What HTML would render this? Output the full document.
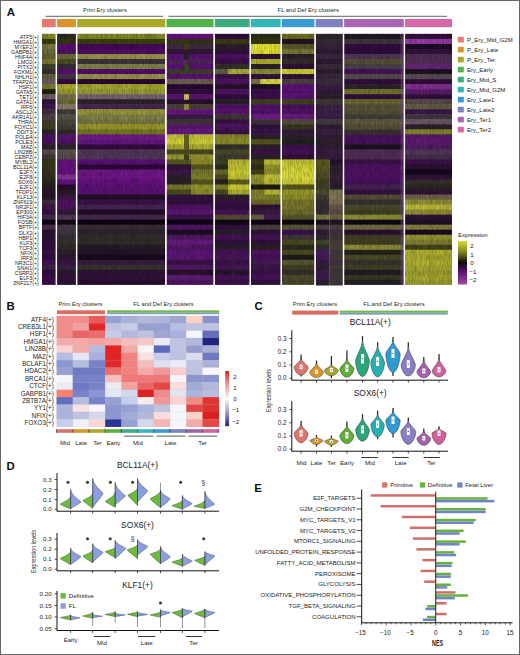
<!DOCTYPE html>
<html><head><meta charset="utf-8"><style>
html,body{margin:0;padding:0;background:#fff;}
svg{display:block;font-family:"Liberation Sans",sans-serif;}
</style></head><body>
<svg width="520" height="655" viewBox="0 0 520 655">
<rect width="520" height="655" fill="#fff"/>
<text x="105.00" y="12.00" font-size="5.8" text-anchor="middle" fill="#231f20">Prim Ery clusters</text>
<text x="308.20" y="12.03" font-size="5.9" text-anchor="middle" fill="#231f20">FL and Def Ery clusters</text>
<line x1="45.50" y1="16.30" x2="163.00" y2="16.30" stroke="#3a3a3a" stroke-width="0.8"/>
<line x1="168.50" y1="16.30" x2="447.00" y2="16.30" stroke="#3a3a3a" stroke-width="0.8"/>
<rect x="42.00" y="19.00" width="13.75" height="8.20" fill="#e8776d"/>
<rect x="57.05" y="19.00" width="18.90" height="8.20" fill="#d6962c"/>
<rect x="77.25" y="19.00" width="88.00" height="8.20" fill="#a8a82a"/>
<rect x="166.55" y="19.00" width="47.00" height="8.20" fill="#52b34a"/>
<rect x="214.85" y="19.00" width="34.80" height="8.20" fill="#3cab80"/>
<rect x="250.95" y="19.00" width="29.70" height="8.20" fill="#34b5b8"/>
<rect x="281.95" y="19.00" width="32.50" height="8.20" fill="#3a9ad8"/>
<rect x="315.75" y="19.00" width="27.10" height="8.20" fill="#7f80c2"/>
<rect x="344.15" y="19.00" width="59.60" height="8.20" fill="#a866b2"/>
<rect x="405.05" y="19.00" width="46.95" height="8.20" fill="#d966a6"/>
<rect x="42.00" y="33.90" width="13.75" height="5.62" fill="#86862d"/>
<rect x="57.05" y="33.90" width="18.90" height="5.62" fill="#2d2d22"/>
<rect x="77.25" y="33.90" width="88.00" height="5.62" fill="#868c27"/>
<rect x="166.55" y="33.90" width="47.00" height="5.62" fill="#681383"/>
<rect x="214.85" y="33.90" width="34.80" height="5.62" fill="#340e42"/>
<rect x="250.95" y="33.90" width="29.70" height="5.62" fill="#2d3216"/>
<rect x="281.95" y="33.90" width="32.50" height="5.62" fill="#707022"/>
<rect x="315.75" y="33.90" width="27.10" height="5.62" fill="#312532"/>
<rect x="344.15" y="33.90" width="59.60" height="5.62" fill="#221c22"/>
<rect x="405.05" y="33.90" width="46.95" height="5.62" fill="#34133b"/>
<rect x="42.00" y="38.92" width="13.75" height="5.62" fill="#383e11"/>
<rect x="57.05" y="38.92" width="18.90" height="5.62" fill="#383811"/>
<rect x="77.25" y="38.92" width="88.00" height="5.62" fill="#3e4311"/>
<rect x="166.55" y="38.92" width="47.00" height="5.62" fill="#383816"/>
<rect x="214.85" y="38.92" width="34.80" height="5.62" fill="#3e3e16"/>
<rect x="250.95" y="38.92" width="29.70" height="5.62" fill="#383816"/>
<rect x="281.95" y="38.92" width="32.50" height="5.62" fill="#221622"/>
<rect x="315.75" y="38.92" width="27.10" height="5.62" fill="#352e34"/>
<rect x="344.15" y="38.92" width="59.60" height="5.62" fill="#433843"/>
<rect x="405.05" y="38.92" width="46.95" height="5.62" fill="#9c39aa"/>
<rect x="42.00" y="43.94" width="13.75" height="5.62" fill="#7b7b43"/>
<rect x="57.05" y="43.94" width="18.90" height="5.62" fill="#5e0e79"/>
<rect x="77.25" y="43.94" width="88.00" height="5.62" fill="#490a5d"/>
<rect x="166.55" y="43.94" width="47.00" height="5.62" fill="#432d43"/>
<rect x="214.85" y="43.94" width="34.80" height="5.62" fill="#2d222d"/>
<rect x="250.95" y="43.94" width="29.70" height="5.62" fill="#ebeb38"/>
<rect x="281.95" y="43.94" width="32.50" height="5.62" fill="#5a5a2d"/>
<rect x="315.75" y="43.94" width="27.10" height="5.62" fill="#36253b"/>
<rect x="344.15" y="43.94" width="59.60" height="5.62" fill="#340e42"/>
<rect x="405.05" y="43.94" width="46.95" height="5.62" fill="#1f0e26"/>
<rect x="42.00" y="48.96" width="13.75" height="5.62" fill="#70703e"/>
<rect x="57.05" y="48.96" width="18.90" height="5.62" fill="#531367"/>
<rect x="77.25" y="48.96" width="88.00" height="5.62" fill="#530e67"/>
<rect x="166.55" y="48.96" width="47.00" height="5.62" fill="#34183b"/>
<rect x="214.85" y="48.96" width="34.80" height="5.62" fill="#34133b"/>
<rect x="250.95" y="48.96" width="29.70" height="5.62" fill="#ebeb38"/>
<rect x="281.95" y="48.96" width="32.50" height="5.62" fill="#7b7b38"/>
<rect x="315.75" y="48.96" width="27.10" height="5.62" fill="#311c36"/>
<rect x="344.15" y="48.96" width="59.60" height="5.62" fill="#340e42"/>
<rect x="405.05" y="48.96" width="46.95" height="5.62" fill="#34133b"/>
<rect x="42.00" y="53.98" width="13.75" height="5.62" fill="#656538"/>
<rect x="57.05" y="53.98" width="18.90" height="5.62" fill="#707038"/>
<rect x="77.25" y="53.98" width="88.00" height="5.62" fill="#9d974e"/>
<rect x="166.55" y="53.98" width="47.00" height="5.62" fill="#5e1379"/>
<rect x="214.85" y="53.98" width="34.80" height="5.62" fill="#531367"/>
<rect x="250.95" y="53.98" width="29.70" height="5.62" fill="#34133b"/>
<rect x="281.95" y="53.98" width="32.50" height="5.62" fill="#2d222d"/>
<rect x="315.75" y="53.98" width="27.10" height="5.62" fill="#3b2a40"/>
<rect x="344.15" y="53.98" width="59.60" height="5.62" fill="#53395a"/>
<rect x="405.05" y="53.98" width="46.95" height="5.62" fill="#53305a"/>
<rect x="42.00" y="59.00" width="13.75" height="5.62" fill="#7b7b38"/>
<rect x="57.05" y="59.00" width="18.90" height="5.62" fill="#4e4e22"/>
<rect x="77.25" y="59.00" width="88.00" height="5.62" fill="#3e383e"/>
<rect x="166.55" y="59.00" width="47.00" height="5.62" fill="#532661"/>
<rect x="214.85" y="59.00" width="34.80" height="5.62" fill="#3e134c"/>
<rect x="250.95" y="59.00" width="29.70" height="5.62" fill="#b3b32d"/>
<rect x="281.95" y="59.00" width="32.50" height="5.62" fill="#382d2d"/>
<rect x="315.75" y="59.00" width="27.10" height="5.62" fill="#311c36"/>
<rect x="344.15" y="59.00" width="59.60" height="5.62" fill="#58533a"/>
<rect x="405.05" y="59.00" width="46.95" height="5.62" fill="#53305a"/>
<rect x="42.00" y="64.02" width="13.75" height="5.62" fill="#43432d"/>
<rect x="57.05" y="64.02" width="18.90" height="5.62" fill="#382d38"/>
<rect x="77.25" y="64.02" width="88.00" height="5.62" fill="#86864e"/>
<rect x="166.55" y="64.02" width="47.00" height="5.62" fill="#5e1379"/>
<rect x="214.85" y="64.02" width="34.80" height="5.62" fill="#383232"/>
<rect x="250.95" y="64.02" width="29.70" height="5.62" fill="#2d222d"/>
<rect x="281.95" y="64.02" width="32.50" height="5.62" fill="#34133b"/>
<rect x="315.75" y="64.02" width="27.10" height="5.62" fill="#3b2a3d"/>
<rect x="344.15" y="64.02" width="59.60" height="5.62" fill="#4e434e"/>
<rect x="405.05" y="64.02" width="46.95" height="5.62" fill="#68267c"/>
<rect x="42.00" y="69.04" width="13.75" height="5.62" fill="#38322d"/>
<rect x="57.05" y="69.04" width="18.90" height="5.62" fill="#5e0e79"/>
<rect x="77.25" y="69.04" width="88.00" height="5.62" fill="#530e6e"/>
<rect x="166.55" y="69.04" width="47.00" height="5.62" fill="#433e2d"/>
<rect x="214.85" y="69.04" width="13.15" height="5.62" fill="#656543"/>
<rect x="228.00" y="69.04" width="21.65" height="5.62" fill="#b3b343"/>
<rect x="250.95" y="69.04" width="29.70" height="5.62" fill="#929238"/>
<rect x="281.95" y="69.04" width="32.50" height="5.62" fill="#d5d538"/>
<rect x="315.75" y="69.04" width="27.10" height="5.62" fill="#2c202d"/>
<rect x="344.15" y="69.04" width="59.60" height="5.62" fill="#49135d"/>
<rect x="405.05" y="69.04" width="46.95" height="5.62" fill="#1f1323"/>
<rect x="42.00" y="74.06" width="13.75" height="5.62" fill="#655f43"/>
<rect x="57.05" y="74.06" width="18.90" height="5.62" fill="#433843"/>
<rect x="77.25" y="74.06" width="88.00" height="5.62" fill="#9d974e"/>
<rect x="166.55" y="74.06" width="47.00" height="5.62" fill="#5e1379"/>
<rect x="214.85" y="74.06" width="34.80" height="5.62" fill="#3e134c"/>
<rect x="250.95" y="74.06" width="29.70" height="5.62" fill="#341342"/>
<rect x="281.95" y="74.06" width="32.50" height="5.62" fill="#34133b"/>
<rect x="315.75" y="74.06" width="27.10" height="5.62" fill="#3b2540"/>
<rect x="344.15" y="74.06" width="59.60" height="5.62" fill="#5a4e4e"/>
<rect x="405.05" y="74.06" width="46.95" height="5.62" fill="#5a4e5a"/>
<rect x="42.00" y="79.08" width="13.75" height="5.62" fill="#705a65"/>
<rect x="57.05" y="79.08" width="18.90" height="5.62" fill="#340a42"/>
<rect x="77.25" y="79.08" width="88.00" height="5.62" fill="#2a0a37"/>
<rect x="166.55" y="79.08" width="47.00" height="5.62" fill="#70654e"/>
<rect x="214.85" y="79.08" width="34.80" height="5.62" fill="#531367"/>
<rect x="250.95" y="79.08" width="9.55" height="5.62" fill="#7b7643"/>
<rect x="260.50" y="79.08" width="20.15" height="5.62" fill="#e0e043"/>
<rect x="281.95" y="79.08" width="32.50" height="5.62" fill="#4e4343"/>
<rect x="315.75" y="79.08" width="27.10" height="5.62" fill="#3b2f3d"/>
<rect x="344.15" y="79.08" width="59.60" height="5.62" fill="#340e42"/>
<rect x="405.05" y="79.08" width="46.95" height="5.62" fill="#340e3b"/>
<rect x="42.00" y="84.10" width="13.75" height="5.62" fill="#7b7b2d"/>
<rect x="57.05" y="84.10" width="18.90" height="5.62" fill="#b3b32d"/>
<rect x="77.25" y="84.10" width="88.00" height="5.62" fill="#a8ae2d"/>
<rect x="166.55" y="84.10" width="47.00" height="5.62" fill="#2a0a37"/>
<rect x="214.85" y="84.10" width="34.80" height="5.62" fill="#2a1330"/>
<rect x="250.95" y="84.10" width="29.70" height="5.62" fill="#1f1326"/>
<rect x="281.95" y="84.10" width="32.50" height="5.62" fill="#5e1379"/>
<rect x="315.75" y="84.10" width="27.10" height="5.62" fill="#3b1c47"/>
<rect x="344.15" y="84.10" width="59.60" height="5.62" fill="#2d272d"/>
<rect x="405.05" y="84.10" width="46.95" height="5.62" fill="#873095"/>
<rect x="42.00" y="89.12" width="13.75" height="5.62" fill="#22220b"/>
<rect x="57.05" y="89.12" width="18.90" height="5.62" fill="#9d9d2d"/>
<rect x="77.25" y="89.12" width="88.00" height="5.62" fill="#9d9d38"/>
<rect x="166.55" y="89.12" width="47.00" height="5.62" fill="#340e42"/>
<rect x="214.85" y="89.12" width="34.80" height="5.62" fill="#531367"/>
<rect x="250.95" y="89.12" width="29.70" height="5.62" fill="#3e0e53"/>
<rect x="281.95" y="89.12" width="32.50" height="5.62" fill="#5e1379"/>
<rect x="315.75" y="89.12" width="27.10" height="5.62" fill="#311c39"/>
<rect x="344.15" y="89.12" width="59.60" height="5.62" fill="#767631"/>
<rect x="405.05" y="89.12" width="46.95" height="5.62" fill="#5e1d72"/>
<rect x="42.00" y="94.14" width="13.75" height="5.62" fill="#7b6565"/>
<rect x="57.05" y="94.14" width="18.90" height="5.62" fill="#7b704e"/>
<rect x="77.25" y="94.14" width="88.00" height="5.62" fill="#7b6570"/>
<rect x="166.55" y="94.14" width="47.00" height="5.62" fill="#5e1372"/>
<rect x="214.85" y="94.14" width="34.80" height="5.62" fill="#340e42"/>
<rect x="250.95" y="94.14" width="29.70" height="5.62" fill="#3e0e4c"/>
<rect x="281.95" y="94.14" width="32.50" height="5.62" fill="#5e1379"/>
<rect x="315.75" y="94.14" width="27.10" height="5.62" fill="#2c202d"/>
<rect x="344.15" y="94.14" width="59.60" height="5.62" fill="#34133b"/>
<rect x="405.05" y="94.14" width="46.95" height="5.62" fill="#34133b"/>
<rect x="42.00" y="99.16" width="13.75" height="5.62" fill="#34133b"/>
<rect x="57.05" y="99.16" width="18.90" height="5.62" fill="#70702d"/>
<rect x="77.25" y="99.16" width="88.00" height="5.62" fill="#2d272d"/>
<rect x="166.55" y="99.16" width="47.00" height="5.62" fill="#2a1330"/>
<rect x="214.85" y="99.16" width="34.80" height="5.62" fill="#2d222d"/>
<rect x="250.95" y="99.16" width="29.70" height="5.62" fill="#434322"/>
<rect x="281.95" y="99.16" width="32.50" height="5.62" fill="#434322"/>
<rect x="315.75" y="99.16" width="27.10" height="5.62" fill="#403937"/>
<rect x="344.15" y="99.16" width="59.60" height="5.62" fill="#6c6c31"/>
<rect x="405.05" y="99.16" width="46.95" height="5.62" fill="#5a4e4e"/>
<rect x="42.00" y="104.18" width="13.75" height="5.62" fill="#3e184c"/>
<rect x="57.05" y="104.18" width="18.90" height="5.62" fill="#927b70"/>
<rect x="77.25" y="104.18" width="88.00" height="5.62" fill="#492656"/>
<rect x="166.55" y="104.18" width="47.00" height="5.62" fill="#4e4338"/>
<rect x="214.85" y="104.18" width="34.80" height="5.62" fill="#531367"/>
<rect x="250.95" y="104.18" width="29.70" height="5.62" fill="#53136e"/>
<rect x="281.95" y="104.18" width="32.50" height="5.62" fill="#49135d"/>
<rect x="315.75" y="104.18" width="27.10" height="5.62" fill="#3b2543"/>
<rect x="344.15" y="104.18" width="59.60" height="5.62" fill="#58533a"/>
<rect x="405.05" y="104.18" width="46.95" height="5.62" fill="#655f43"/>
<rect x="42.00" y="109.20" width="13.75" height="5.62" fill="#432d43"/>
<rect x="57.05" y="109.20" width="18.90" height="5.62" fill="#433e38"/>
<rect x="77.25" y="109.20" width="88.00" height="5.62" fill="#9d9d38"/>
<rect x="166.55" y="109.20" width="47.00" height="5.62" fill="#681883"/>
<rect x="214.85" y="109.20" width="34.80" height="5.62" fill="#5e1379"/>
<rect x="250.95" y="109.20" width="29.70" height="5.62" fill="#53136e"/>
<rect x="281.95" y="109.20" width="32.50" height="5.62" fill="#531367"/>
<rect x="315.75" y="109.20" width="27.10" height="5.62" fill="#3b2047"/>
<rect x="344.15" y="109.20" width="59.60" height="5.62" fill="#585336"/>
<rect x="405.05" y="109.20" width="46.95" height="5.62" fill="#3e184c"/>
<rect x="42.00" y="114.22" width="13.75" height="5.62" fill="#4e4343"/>
<rect x="57.05" y="114.22" width="18.90" height="5.62" fill="#5a5449"/>
<rect x="77.25" y="114.22" width="88.00" height="5.62" fill="#86864e"/>
<rect x="166.55" y="114.22" width="47.00" height="5.62" fill="#3e1d4c"/>
<rect x="214.85" y="114.22" width="34.80" height="5.62" fill="#433838"/>
<rect x="250.95" y="114.22" width="29.70" height="5.62" fill="#731d8d"/>
<rect x="281.95" y="114.22" width="32.50" height="5.62" fill="#681d83"/>
<rect x="315.75" y="114.22" width="27.10" height="5.62" fill="#3b2047"/>
<rect x="344.15" y="114.22" width="59.60" height="5.62" fill="#44403a"/>
<rect x="405.05" y="114.22" width="46.95" height="5.62" fill="#433843"/>
<rect x="42.00" y="119.24" width="13.75" height="5.62" fill="#433e38"/>
<rect x="57.05" y="119.24" width="18.90" height="5.62" fill="#4e493e"/>
<rect x="77.25" y="119.24" width="88.00" height="5.62" fill="#7b7b43"/>
<rect x="166.55" y="119.24" width="47.00" height="5.62" fill="#433838"/>
<rect x="214.85" y="119.24" width="34.80" height="5.62" fill="#3e134c"/>
<rect x="250.95" y="119.24" width="29.70" height="5.62" fill="#433838"/>
<rect x="281.95" y="119.24" width="32.50" height="5.62" fill="#5a4e43"/>
<rect x="315.75" y="119.24" width="27.10" height="5.62" fill="#453c42"/>
<rect x="344.15" y="119.24" width="59.60" height="5.62" fill="#635d40"/>
<rect x="405.05" y="119.24" width="46.95" height="5.62" fill="#705a65"/>
<rect x="42.00" y="124.26" width="13.75" height="5.62" fill="#434322"/>
<rect x="57.05" y="124.26" width="18.90" height="5.62" fill="#433e38"/>
<rect x="77.25" y="124.26" width="88.00" height="5.62" fill="#9d9d2d"/>
<rect x="166.55" y="124.26" width="47.00" height="5.62" fill="#5e1872"/>
<rect x="214.85" y="124.26" width="34.80" height="5.62" fill="#531367"/>
<rect x="250.95" y="124.26" width="29.70" height="5.62" fill="#341342"/>
<rect x="281.95" y="124.26" width="32.50" height="5.62" fill="#383822"/>
<rect x="315.75" y="124.26" width="27.10" height="5.62" fill="#311c36"/>
<rect x="344.15" y="124.26" width="59.60" height="5.62" fill="#58533a"/>
<rect x="405.05" y="124.26" width="46.95" height="5.62" fill="#2d222d"/>
<rect x="42.00" y="129.28" width="13.75" height="5.62" fill="#2d222d"/>
<rect x="57.05" y="129.28" width="18.90" height="5.62" fill="#322d27"/>
<rect x="77.25" y="129.28" width="88.00" height="5.62" fill="#7b7b22"/>
<rect x="166.55" y="129.28" width="47.00" height="5.62" fill="#681883"/>
<rect x="214.85" y="129.28" width="34.80" height="5.62" fill="#3e134c"/>
<rect x="250.95" y="129.28" width="29.70" height="5.62" fill="#3e134c"/>
<rect x="281.95" y="129.28" width="32.50" height="5.62" fill="#341d3b"/>
<rect x="315.75" y="129.28" width="27.10" height="5.62" fill="#3b2043"/>
<rect x="344.15" y="129.28" width="59.60" height="5.62" fill="#3a3631"/>
<rect x="405.05" y="129.28" width="46.95" height="5.62" fill="#86862d"/>
<rect x="42.00" y="134.30" width="13.75" height="5.62" fill="#49135d"/>
<rect x="57.05" y="134.30" width="18.90" height="5.62" fill="#5e1379"/>
<rect x="77.25" y="134.30" width="88.00" height="5.62" fill="#731d8d"/>
<rect x="166.55" y="134.30" width="47.00" height="5.62" fill="#caca38"/>
<rect x="214.85" y="134.30" width="34.80" height="5.62" fill="#92922d"/>
<rect x="250.95" y="134.30" width="29.70" height="5.62" fill="#2d222d"/>
<rect x="281.95" y="134.30" width="32.50" height="5.62" fill="#2d222d"/>
<rect x="315.75" y="134.30" width="27.10" height="5.62" fill="#311e36"/>
<rect x="344.15" y="134.30" width="59.60" height="5.62" fill="#49135d"/>
<rect x="405.05" y="134.30" width="46.95" height="5.62" fill="#5e1872"/>
<rect x="42.00" y="139.32" width="13.75" height="5.62" fill="#49135d"/>
<rect x="57.05" y="139.32" width="18.90" height="5.62" fill="#531367"/>
<rect x="77.25" y="139.32" width="88.00" height="5.62" fill="#681883"/>
<rect x="166.55" y="139.32" width="47.00" height="5.62" fill="#d5d538"/>
<rect x="214.85" y="139.32" width="34.80" height="5.62" fill="#92922d"/>
<rect x="250.95" y="139.32" width="29.70" height="5.62" fill="#5a5a22"/>
<rect x="281.95" y="139.32" width="32.50" height="5.62" fill="#222222"/>
<rect x="315.75" y="139.32" width="27.10" height="5.62" fill="#2c202d"/>
<rect x="344.15" y="139.32" width="59.60" height="5.62" fill="#49135d"/>
<rect x="405.05" y="139.32" width="46.95" height="5.62" fill="#5e1d72"/>
<rect x="42.00" y="144.34" width="13.75" height="5.62" fill="#2d222d"/>
<rect x="57.05" y="144.34" width="18.90" height="5.62" fill="#2d272d"/>
<rect x="77.25" y="144.34" width="88.00" height="5.62" fill="#340e42"/>
<rect x="166.55" y="144.34" width="47.00" height="5.62" fill="#b3b338"/>
<rect x="214.85" y="144.34" width="34.80" height="5.62" fill="#38322d"/>
<rect x="250.95" y="144.34" width="29.70" height="5.62" fill="#2d222d"/>
<rect x="281.95" y="144.34" width="32.50" height="5.62" fill="#3e134c"/>
<rect x="315.75" y="144.34" width="27.10" height="5.62" fill="#311e36"/>
<rect x="344.15" y="144.34" width="59.60" height="5.62" fill="#1f1323"/>
<rect x="405.05" y="144.34" width="46.95" height="5.62" fill="#531d67"/>
<rect x="42.00" y="149.36" width="13.75" height="5.62" fill="#5a4e4e"/>
<rect x="57.05" y="149.36" width="18.90" height="5.62" fill="#5a544e"/>
<rect x="77.25" y="149.36" width="88.00" height="5.62" fill="#53395a"/>
<rect x="166.55" y="149.36" width="47.00" height="5.62" fill="#4e4e22"/>
<rect x="214.85" y="149.36" width="34.80" height="5.62" fill="#4e4e2d"/>
<rect x="250.95" y="149.36" width="29.70" height="5.62" fill="#3e134c"/>
<rect x="281.95" y="149.36" width="32.50" height="5.62" fill="#49135d"/>
<rect x="315.75" y="149.36" width="27.10" height="5.62" fill="#3b1e43"/>
<rect x="344.15" y="149.36" width="59.60" height="5.62" fill="#53305a"/>
<rect x="405.05" y="149.36" width="46.95" height="5.62" fill="#53395a"/>
<rect x="42.00" y="154.38" width="13.75" height="5.62" fill="#433838"/>
<rect x="57.05" y="154.38" width="18.90" height="5.62" fill="#5a4e4e"/>
<rect x="77.25" y="154.38" width="88.00" height="5.62" fill="#53395a"/>
<rect x="166.55" y="154.38" width="47.00" height="5.62" fill="#9d9d38"/>
<rect x="214.85" y="154.38" width="34.80" height="5.62" fill="#433e32"/>
<rect x="250.95" y="154.38" width="29.70" height="5.62" fill="#2d222d"/>
<rect x="281.95" y="154.38" width="32.50" height="5.62" fill="#34133b"/>
<rect x="315.75" y="154.38" width="27.10" height="5.62" fill="#361e3e"/>
<rect x="344.15" y="154.38" width="59.60" height="5.62" fill="#53305a"/>
<rect x="405.05" y="154.38" width="46.95" height="5.62" fill="#493050"/>
<rect x="42.00" y="159.40" width="13.75" height="5.62" fill="#38381c"/>
<rect x="57.05" y="159.40" width="18.90" height="5.62" fill="#681383"/>
<rect x="77.25" y="159.40" width="88.00" height="5.62" fill="#5e1379"/>
<rect x="166.55" y="159.40" width="24.45" height="5.62" fill="#5a5a22"/>
<rect x="191.00" y="159.40" width="22.55" height="5.62" fill="#92922d"/>
<rect x="214.85" y="159.40" width="13.15" height="5.62" fill="#434322"/>
<rect x="228.00" y="159.40" width="21.65" height="5.62" fill="#bebe38"/>
<rect x="250.95" y="159.40" width="13.05" height="5.62" fill="#43431c"/>
<rect x="264.00" y="159.40" width="16.65" height="5.62" fill="#c4c438"/>
<rect x="281.95" y="159.40" width="32.50" height="5.62" fill="#caca38"/>
<rect x="315.75" y="159.40" width="13.85" height="5.62" fill="#5a5a22"/>
<rect x="329.60" y="159.40" width="13.25" height="5.62" fill="#2a1330"/>
<rect x="344.15" y="159.40" width="59.60" height="5.62" fill="#3e134c"/>
<rect x="405.05" y="159.40" width="46.95" height="5.62" fill="#3e134c"/>
<rect x="42.00" y="164.42" width="13.75" height="5.62" fill="#38381c"/>
<rect x="57.05" y="164.42" width="18.90" height="5.62" fill="#681383"/>
<rect x="77.25" y="164.42" width="88.00" height="5.62" fill="#2f0a39"/>
<rect x="166.55" y="164.42" width="24.45" height="5.62" fill="#34133b"/>
<rect x="191.00" y="164.42" width="22.55" height="5.62" fill="#5a5a22"/>
<rect x="214.85" y="164.42" width="13.15" height="5.62" fill="#2d2d22"/>
<rect x="228.00" y="164.42" width="21.65" height="5.62" fill="#caca38"/>
<rect x="250.95" y="164.42" width="13.05" height="5.62" fill="#32321c"/>
<rect x="264.00" y="164.42" width="16.65" height="5.62" fill="#9d9d32"/>
<rect x="281.95" y="164.42" width="32.50" height="5.62" fill="#d5d538"/>
<rect x="315.75" y="164.42" width="13.85" height="5.62" fill="#5a5a22"/>
<rect x="329.60" y="164.42" width="13.25" height="5.62" fill="#2d222d"/>
<rect x="344.15" y="164.42" width="59.60" height="5.62" fill="#531367"/>
<rect x="405.05" y="164.42" width="46.95" height="5.62" fill="#2a1330"/>
<rect x="42.00" y="169.44" width="13.75" height="5.62" fill="#383222"/>
<rect x="57.05" y="169.44" width="18.90" height="5.62" fill="#681383"/>
<rect x="77.25" y="169.44" width="88.00" height="5.62" fill="#73188d"/>
<rect x="166.55" y="169.44" width="24.45" height="5.62" fill="#3e1845"/>
<rect x="191.00" y="169.44" width="22.55" height="5.62" fill="#7b7b2d"/>
<rect x="214.85" y="169.44" width="13.15" height="5.62" fill="#70702d"/>
<rect x="228.00" y="169.44" width="21.65" height="5.62" fill="#d5d538"/>
<rect x="250.95" y="169.44" width="13.05" height="5.62" fill="#434322"/>
<rect x="264.00" y="169.44" width="16.65" height="5.62" fill="#92922d"/>
<rect x="281.95" y="169.44" width="32.50" height="5.62" fill="#e0e038"/>
<rect x="315.75" y="169.44" width="13.85" height="5.62" fill="#545427"/>
<rect x="329.60" y="169.44" width="13.25" height="5.62" fill="#2d222d"/>
<rect x="344.15" y="169.44" width="59.60" height="5.62" fill="#531367"/>
<rect x="405.05" y="169.44" width="46.95" height="5.62" fill="#150a1c"/>
<rect x="42.00" y="174.46" width="13.75" height="5.62" fill="#32321c"/>
<rect x="57.05" y="174.46" width="18.90" height="5.62" fill="#873995"/>
<rect x="77.25" y="174.46" width="88.00" height="5.62" fill="#73188d"/>
<rect x="166.55" y="174.46" width="24.45" height="5.62" fill="#2d222d"/>
<rect x="191.00" y="174.46" width="22.55" height="5.62" fill="#86862d"/>
<rect x="214.85" y="174.46" width="13.15" height="5.62" fill="#4e4e22"/>
<rect x="228.00" y="174.46" width="21.65" height="5.62" fill="#caca38"/>
<rect x="250.95" y="174.46" width="13.05" height="5.62" fill="#9d9d2d"/>
<rect x="264.00" y="174.46" width="16.65" height="5.62" fill="#caca38"/>
<rect x="281.95" y="174.46" width="32.50" height="5.62" fill="#e0e043"/>
<rect x="315.75" y="174.46" width="13.85" height="5.62" fill="#4e4e27"/>
<rect x="329.60" y="174.46" width="13.25" height="5.62" fill="#382238"/>
<rect x="344.15" y="174.46" width="59.60" height="5.62" fill="#531367"/>
<rect x="405.05" y="174.46" width="46.95" height="5.62" fill="#34133b"/>
<rect x="42.00" y="179.48" width="13.75" height="5.62" fill="#2d2722"/>
<rect x="57.05" y="179.48" width="18.90" height="5.62" fill="#681383"/>
<rect x="77.25" y="179.48" width="88.00" height="5.62" fill="#681383"/>
<rect x="166.55" y="179.48" width="24.45" height="5.62" fill="#2d222d"/>
<rect x="191.00" y="179.48" width="22.55" height="5.62" fill="#5a5a22"/>
<rect x="214.85" y="179.48" width="13.15" height="5.62" fill="#2d2722"/>
<rect x="228.00" y="179.48" width="21.65" height="5.62" fill="#656522"/>
<rect x="250.95" y="179.48" width="13.05" height="5.62" fill="#92922d"/>
<rect x="264.00" y="179.48" width="16.65" height="5.62" fill="#bebe38"/>
<rect x="281.95" y="179.48" width="32.50" height="5.62" fill="#d5d538"/>
<rect x="315.75" y="179.48" width="13.85" height="5.62" fill="#434327"/>
<rect x="329.60" y="179.48" width="13.25" height="5.62" fill="#341d3b"/>
<rect x="344.15" y="179.48" width="59.60" height="5.62" fill="#49135d"/>
<rect x="405.05" y="179.48" width="46.95" height="5.62" fill="#38322d"/>
<rect x="42.00" y="184.50" width="13.75" height="5.62" fill="#272222"/>
<rect x="57.05" y="184.50" width="18.90" height="5.62" fill="#2a0e30"/>
<rect x="77.25" y="184.50" width="88.00" height="5.62" fill="#5e1379"/>
<rect x="166.55" y="184.50" width="24.45" height="5.62" fill="#7b7b2d"/>
<rect x="191.00" y="184.50" width="22.55" height="5.62" fill="#9d9d2d"/>
<rect x="214.85" y="184.50" width="13.15" height="5.62" fill="#86862d"/>
<rect x="228.00" y="184.50" width="21.65" height="5.62" fill="#d5d538"/>
<rect x="250.95" y="184.50" width="29.70" height="5.62" fill="#221c16"/>
<rect x="281.95" y="184.50" width="32.50" height="5.62" fill="#5a5a22"/>
<rect x="315.75" y="184.50" width="13.85" height="5.62" fill="#434327"/>
<rect x="329.60" y="184.50" width="13.25" height="5.62" fill="#2a212d"/>
<rect x="344.15" y="184.50" width="59.60" height="5.62" fill="#492656"/>
<rect x="405.05" y="184.50" width="46.95" height="5.62" fill="#2d2727"/>
<rect x="42.00" y="189.52" width="13.75" height="5.62" fill="#2f1332"/>
<rect x="57.05" y="189.52" width="18.90" height="5.62" fill="#271c27"/>
<rect x="77.25" y="189.52" width="88.00" height="5.62" fill="#5e1375"/>
<rect x="166.55" y="189.52" width="24.45" height="5.62" fill="#4e4e22"/>
<rect x="191.00" y="189.52" width="22.55" height="5.62" fill="#92922d"/>
<rect x="214.85" y="189.52" width="13.15" height="5.62" fill="#4e4e22"/>
<rect x="228.00" y="189.52" width="21.65" height="5.62" fill="#b3b338"/>
<rect x="250.95" y="189.52" width="13.05" height="5.62" fill="#86862d"/>
<rect x="264.00" y="189.52" width="16.65" height="5.62" fill="#bebe38"/>
<rect x="281.95" y="189.52" width="32.50" height="5.62" fill="#9d9d2d"/>
<rect x="315.75" y="189.52" width="13.85" height="5.62" fill="#4e4e2d"/>
<rect x="329.60" y="189.52" width="13.25" height="5.62" fill="#7b764e"/>
<rect x="344.15" y="189.52" width="59.60" height="5.62" fill="#341342"/>
<rect x="405.05" y="189.52" width="46.95" height="5.62" fill="#34133b"/>
<rect x="42.00" y="194.54" width="13.75" height="5.62" fill="#241828"/>
<rect x="57.05" y="194.54" width="18.90" height="5.62" fill="#3e1845"/>
<rect x="77.25" y="194.54" width="88.00" height="5.62" fill="#241328"/>
<rect x="166.55" y="194.54" width="47.00" height="5.62" fill="#341342"/>
<rect x="214.85" y="194.54" width="34.80" height="5.62" fill="#2d222d"/>
<rect x="250.95" y="194.54" width="29.70" height="5.62" fill="#86862d"/>
<rect x="281.95" y="194.54" width="32.50" height="5.62" fill="#92922d"/>
<rect x="315.75" y="194.54" width="13.85" height="5.62" fill="#433e32"/>
<rect x="329.60" y="194.54" width="13.25" height="5.62" fill="#867b5a"/>
<rect x="344.15" y="194.54" width="59.60" height="5.62" fill="#57523a"/>
<rect x="405.05" y="194.54" width="46.95" height="5.62" fill="#70654e"/>
<rect x="42.00" y="199.56" width="13.75" height="5.62" fill="#432d43"/>
<rect x="57.05" y="199.56" width="18.90" height="5.62" fill="#531367"/>
<rect x="77.25" y="199.56" width="88.00" height="5.62" fill="#3e134c"/>
<rect x="166.55" y="199.56" width="47.00" height="5.62" fill="#34133b"/>
<rect x="214.85" y="199.56" width="34.80" height="5.62" fill="#3e134c"/>
<rect x="250.95" y="199.56" width="29.70" height="5.62" fill="#707027"/>
<rect x="281.95" y="199.56" width="32.50" height="5.62" fill="#7b7b2d"/>
<rect x="315.75" y="199.56" width="13.85" height="5.62" fill="#383232"/>
<rect x="329.60" y="199.56" width="13.25" height="5.62" fill="#7b704e"/>
<rect x="344.15" y="199.56" width="59.60" height="5.62" fill="#3a3530"/>
<rect x="405.05" y="199.56" width="46.95" height="5.62" fill="#929238"/>
<rect x="42.00" y="204.58" width="13.75" height="5.62" fill="#3e184c"/>
<rect x="57.05" y="204.58" width="18.90" height="5.62" fill="#531367"/>
<rect x="77.25" y="204.58" width="88.00" height="5.62" fill="#492656"/>
<rect x="166.55" y="204.58" width="47.00" height="5.62" fill="#531367"/>
<rect x="214.85" y="204.58" width="34.80" height="5.62" fill="#341342"/>
<rect x="250.95" y="204.58" width="29.70" height="5.62" fill="#34133b"/>
<rect x="281.95" y="204.58" width="32.50" height="5.62" fill="#7b7b2d"/>
<rect x="315.75" y="204.58" width="13.85" height="5.62" fill="#382d38"/>
<rect x="329.60" y="204.58" width="13.25" height="5.62" fill="#655a4e"/>
<rect x="344.15" y="204.58" width="59.60" height="5.62" fill="#4d4d30"/>
<rect x="405.05" y="204.58" width="46.95" height="5.62" fill="#bebe38"/>
<rect x="42.00" y="209.60" width="13.75" height="5.62" fill="#391343"/>
<rect x="57.05" y="209.60" width="18.90" height="5.62" fill="#341d3b"/>
<rect x="77.25" y="209.60" width="88.00" height="5.62" fill="#240e2b"/>
<rect x="166.55" y="209.60" width="47.00" height="5.62" fill="#5e1879"/>
<rect x="214.85" y="209.60" width="34.80" height="5.62" fill="#49135d"/>
<rect x="250.95" y="209.60" width="29.70" height="5.62" fill="#3e1d45"/>
<rect x="281.95" y="209.60" width="32.50" height="5.62" fill="#70702d"/>
<rect x="315.75" y="209.60" width="13.85" height="5.62" fill="#383232"/>
<rect x="329.60" y="209.60" width="13.25" height="5.62" fill="#5a4e43"/>
<rect x="344.15" y="209.60" width="59.60" height="5.62" fill="#434326"/>
<rect x="405.05" y="209.60" width="46.95" height="5.62" fill="#929238"/>
<rect x="42.00" y="214.62" width="13.75" height="5.62" fill="#492b50"/>
<rect x="57.05" y="214.62" width="18.90" height="5.62" fill="#53395a"/>
<rect x="77.25" y="214.62" width="88.00" height="5.62" fill="#492b50"/>
<rect x="166.55" y="214.62" width="47.00" height="5.62" fill="#3e134c"/>
<rect x="214.85" y="214.62" width="34.80" height="5.62" fill="#5a4e38"/>
<rect x="250.95" y="214.62" width="13.05" height="5.62" fill="#706543"/>
<rect x="264.00" y="214.62" width="16.65" height="5.62" fill="#491d56"/>
<rect x="281.95" y="214.62" width="32.50" height="5.62" fill="#5a5a2d"/>
<rect x="315.75" y="214.62" width="13.85" height="5.62" fill="#7b7b43"/>
<rect x="329.60" y="214.62" width="13.25" height="5.62" fill="#706a43"/>
<rect x="344.15" y="214.62" width="59.60" height="5.62" fill="#92923a"/>
<rect x="405.05" y="214.62" width="46.95" height="5.62" fill="#34133b"/>
<rect x="42.00" y="219.64" width="13.75" height="5.62" fill="#100513"/>
<rect x="57.05" y="219.64" width="18.90" height="5.62" fill="#150a18"/>
<rect x="77.25" y="219.64" width="88.00" height="5.62" fill="#100513"/>
<rect x="166.55" y="219.64" width="47.00" height="5.62" fill="#100516"/>
<rect x="214.85" y="219.64" width="34.80" height="5.62" fill="#150a18"/>
<rect x="250.95" y="219.64" width="29.70" height="5.62" fill="#100516"/>
<rect x="281.95" y="219.64" width="32.50" height="5.62" fill="#100a13"/>
<rect x="315.75" y="219.64" width="13.85" height="5.62" fill="#1a0e21"/>
<rect x="329.60" y="219.64" width="13.25" height="5.62" fill="#241828"/>
<rect x="344.15" y="219.64" width="59.60" height="5.62" fill="#120818"/>
<rect x="405.05" y="219.64" width="46.95" height="5.62" fill="#1f1326"/>
<rect x="42.00" y="224.66" width="13.75" height="5.62" fill="#49304c"/>
<rect x="57.05" y="224.66" width="18.90" height="5.62" fill="#4e3951"/>
<rect x="77.25" y="224.66" width="88.00" height="5.62" fill="#3a2f3a"/>
<rect x="166.55" y="224.66" width="47.00" height="5.62" fill="#531867"/>
<rect x="214.85" y="224.66" width="34.80" height="5.62" fill="#341342"/>
<rect x="250.95" y="224.66" width="29.70" height="5.62" fill="#4e4343"/>
<rect x="281.95" y="224.66" width="32.50" height="5.62" fill="#5a5a38"/>
<rect x="315.75" y="224.66" width="13.85" height="5.62" fill="#4e4343"/>
<rect x="329.60" y="224.66" width="13.25" height="5.62" fill="#4c4242"/>
<rect x="344.15" y="224.66" width="59.60" height="5.62" fill="#747043"/>
<rect x="405.05" y="224.66" width="46.95" height="5.62" fill="#868143"/>
<rect x="42.00" y="229.68" width="13.75" height="5.62" fill="#2a1330"/>
<rect x="57.05" y="229.68" width="18.90" height="5.62" fill="#433843"/>
<rect x="77.25" y="229.68" width="88.00" height="5.62" fill="#2f282f"/>
<rect x="166.55" y="229.68" width="47.00" height="5.62" fill="#1f0e26"/>
<rect x="214.85" y="229.68" width="34.80" height="5.62" fill="#2d222d"/>
<rect x="250.95" y="229.68" width="29.70" height="5.62" fill="#34133b"/>
<rect x="281.95" y="229.68" width="32.50" height="5.62" fill="#3e1353"/>
<rect x="315.75" y="229.68" width="13.85" height="5.62" fill="#341d3b"/>
<rect x="329.60" y="229.68" width="13.25" height="5.62" fill="#423442"/>
<rect x="344.15" y="229.68" width="59.60" height="5.62" fill="#2d1033"/>
<rect x="405.05" y="229.68" width="46.95" height="5.62" fill="#1f0a26"/>
<rect x="42.00" y="234.70" width="13.75" height="5.62" fill="#2f1339"/>
<rect x="57.05" y="234.70" width="18.90" height="5.62" fill="#383238"/>
<rect x="77.25" y="234.70" width="88.00" height="5.62" fill="#342f2d"/>
<rect x="166.55" y="234.70" width="47.00" height="5.62" fill="#531867"/>
<rect x="214.85" y="234.70" width="34.80" height="5.62" fill="#49135d"/>
<rect x="250.95" y="234.70" width="29.70" height="5.62" fill="#49135d"/>
<rect x="281.95" y="234.70" width="32.50" height="5.62" fill="#433838"/>
<rect x="315.75" y="234.70" width="13.85" height="5.62" fill="#322d32"/>
<rect x="329.60" y="234.70" width="13.25" height="5.62" fill="#423939"/>
<rect x="344.15" y="234.70" width="59.60" height="5.62" fill="#434326"/>
<rect x="405.05" y="234.70" width="46.95" height="5.62" fill="#979732"/>
<rect x="42.00" y="239.72" width="13.75" height="5.62" fill="#341342"/>
<rect x="57.05" y="239.72" width="18.90" height="5.62" fill="#38322d"/>
<rect x="77.25" y="239.72" width="88.00" height="5.62" fill="#322e2b"/>
<rect x="166.55" y="239.72" width="47.00" height="5.62" fill="#681d83"/>
<rect x="214.85" y="239.72" width="34.80" height="5.62" fill="#341342"/>
<rect x="250.95" y="239.72" width="29.70" height="5.62" fill="#341342"/>
<rect x="281.95" y="239.72" width="32.50" height="5.62" fill="#4e4e22"/>
<rect x="315.75" y="239.72" width="13.85" height="5.62" fill="#43432d"/>
<rect x="329.60" y="239.72" width="13.25" height="5.62" fill="#473e39"/>
<rect x="344.15" y="239.72" width="59.60" height="5.62" fill="#434326"/>
<rect x="405.05" y="239.72" width="46.95" height="5.62" fill="#838332"/>
<rect x="42.00" y="244.74" width="13.75" height="5.62" fill="#340e42"/>
<rect x="57.05" y="244.74" width="18.90" height="5.62" fill="#322d2d"/>
<rect x="77.25" y="244.74" width="88.00" height="5.62" fill="#261e26"/>
<rect x="166.55" y="244.74" width="47.00" height="5.62" fill="#531867"/>
<rect x="214.85" y="244.74" width="34.80" height="5.62" fill="#2d222d"/>
<rect x="250.95" y="244.74" width="29.70" height="5.62" fill="#2d2222"/>
<rect x="281.95" y="244.74" width="32.50" height="5.62" fill="#2d2d22"/>
<rect x="315.75" y="244.74" width="13.85" height="5.62" fill="#383232"/>
<rect x="329.60" y="244.74" width="13.25" height="5.62" fill="#4c4239"/>
<rect x="344.15" y="244.74" width="59.60" height="5.62" fill="#92923a"/>
<rect x="405.05" y="244.74" width="46.95" height="5.62" fill="#47471e"/>
<rect x="42.00" y="249.76" width="13.75" height="5.62" fill="#391347"/>
<rect x="57.05" y="249.76" width="18.90" height="5.62" fill="#2d222d"/>
<rect x="77.25" y="249.76" width="88.00" height="5.62" fill="#25152a"/>
<rect x="166.55" y="249.76" width="47.00" height="5.62" fill="#5e1879"/>
<rect x="214.85" y="249.76" width="34.80" height="5.62" fill="#49135d"/>
<rect x="250.95" y="249.76" width="29.70" height="5.62" fill="#531367"/>
<rect x="281.95" y="249.76" width="32.50" height="5.62" fill="#4e4e22"/>
<rect x="315.75" y="249.76" width="13.85" height="5.62" fill="#491d5d"/>
<rect x="329.60" y="249.76" width="13.25" height="5.62" fill="#42393e"/>
<rect x="344.15" y="249.76" width="59.60" height="5.62" fill="#26261d"/>
<rect x="405.05" y="249.76" width="46.95" height="5.62" fill="#b5b532"/>
<rect x="42.00" y="254.78" width="13.75" height="5.62" fill="#340e42"/>
<rect x="57.05" y="254.78" width="18.90" height="5.62" fill="#2f1836"/>
<rect x="77.25" y="254.78" width="88.00" height="5.62" fill="#170b1a"/>
<rect x="166.55" y="254.78" width="47.00" height="5.62" fill="#5e1879"/>
<rect x="214.85" y="254.78" width="34.80" height="5.62" fill="#49185d"/>
<rect x="250.95" y="254.78" width="29.70" height="5.62" fill="#49135d"/>
<rect x="281.95" y="254.78" width="32.50" height="5.62" fill="#221c1c"/>
<rect x="315.75" y="254.78" width="13.85" height="5.62" fill="#491d5d"/>
<rect x="329.60" y="254.78" width="13.25" height="5.62" fill="#473e39"/>
<rect x="344.15" y="254.78" width="59.60" height="5.62" fill="#4d4d26"/>
<rect x="405.05" y="254.78" width="46.95" height="5.62" fill="#abab32"/>
<rect x="42.00" y="259.80" width="13.75" height="5.62" fill="#441351"/>
<rect x="57.05" y="259.80" width="18.90" height="5.62" fill="#391843"/>
<rect x="77.25" y="259.80" width="88.00" height="5.62" fill="#391d40"/>
<rect x="166.55" y="259.80" width="47.00" height="5.62" fill="#3e134c"/>
<rect x="214.85" y="259.80" width="34.80" height="5.62" fill="#3e134c"/>
<rect x="250.95" y="259.80" width="29.70" height="5.62" fill="#491d56"/>
<rect x="281.95" y="259.80" width="32.50" height="5.62" fill="#5a5a38"/>
<rect x="315.75" y="259.80" width="13.85" height="5.62" fill="#341d42"/>
<rect x="329.60" y="259.80" width="13.25" height="5.62" fill="#423442"/>
<rect x="344.15" y="259.80" width="59.60" height="5.62" fill="#3a3530"/>
<rect x="405.05" y="259.80" width="46.95" height="5.62" fill="#b5b532"/>
<rect x="42.00" y="264.82" width="13.75" height="5.62" fill="#3e2642"/>
<rect x="57.05" y="264.82" width="18.90" height="5.62" fill="#3e2145"/>
<rect x="77.25" y="264.82" width="88.00" height="5.62" fill="#3a3531"/>
<rect x="166.55" y="264.82" width="47.00" height="5.62" fill="#531867"/>
<rect x="214.85" y="264.82" width="34.80" height="5.62" fill="#49185d"/>
<rect x="250.95" y="264.82" width="29.70" height="5.62" fill="#3e184c"/>
<rect x="281.95" y="264.82" width="32.50" height="5.62" fill="#434322"/>
<rect x="315.75" y="264.82" width="13.85" height="5.62" fill="#2f2132"/>
<rect x="329.60" y="264.82" width="13.25" height="5.62" fill="#473e39"/>
<rect x="344.15" y="264.82" width="59.60" height="5.62" fill="#434326"/>
<rect x="405.05" y="264.82" width="46.95" height="5.62" fill="#abab32"/>
<rect x="42.00" y="269.84" width="13.75" height="5.62" fill="#340e42"/>
<rect x="57.05" y="269.84" width="18.90" height="5.62" fill="#2a1d2d"/>
<rect x="77.25" y="269.84" width="88.00" height="5.62" fill="#2f1536"/>
<rect x="166.55" y="269.84" width="47.00" height="5.62" fill="#2a1330"/>
<rect x="214.85" y="269.84" width="34.80" height="5.62" fill="#2a1830"/>
<rect x="250.95" y="269.84" width="29.70" height="5.62" fill="#3e134c"/>
<rect x="281.95" y="269.84" width="32.50" height="5.62" fill="#38322d"/>
<rect x="315.75" y="269.84" width="13.85" height="5.62" fill="#3e1d4c"/>
<rect x="329.60" y="269.84" width="13.25" height="5.62" fill="#423939"/>
<rect x="344.15" y="269.84" width="59.60" height="5.62" fill="#261d26"/>
<rect x="405.05" y="269.84" width="46.95" height="5.62" fill="#a1a132"/>
<rect x="42.00" y="274.86" width="13.75" height="5.62" fill="#3e0e4c"/>
<rect x="57.05" y="274.86" width="18.90" height="5.62" fill="#391343"/>
<rect x="77.25" y="274.86" width="88.00" height="5.62" fill="#34133c"/>
<rect x="166.55" y="274.86" width="47.00" height="5.62" fill="#5e1d79"/>
<rect x="214.85" y="274.86" width="34.80" height="5.62" fill="#49135d"/>
<rect x="250.95" y="274.86" width="29.70" height="5.62" fill="#49135d"/>
<rect x="281.95" y="274.86" width="32.50" height="5.62" fill="#4e4e2d"/>
<rect x="315.75" y="274.86" width="13.85" height="5.62" fill="#3e1d4c"/>
<rect x="329.60" y="274.86" width="13.25" height="5.62" fill="#42393e"/>
<rect x="344.15" y="274.86" width="59.60" height="5.62" fill="#3a3a26"/>
<rect x="405.05" y="274.86" width="46.95" height="5.62" fill="#abab32"/>
<rect x="42.00" y="279.88" width="13.75" height="5.02" fill="#3e0e4c"/>
<rect x="57.05" y="279.88" width="18.90" height="5.02" fill="#2f1339"/>
<rect x="77.25" y="279.88" width="88.00" height="5.02" fill="#2c0e32"/>
<rect x="166.55" y="279.88" width="47.00" height="5.02" fill="#531867"/>
<rect x="214.85" y="279.88" width="34.80" height="5.02" fill="#3e134c"/>
<rect x="250.95" y="279.88" width="29.70" height="5.02" fill="#341342"/>
<rect x="281.95" y="279.88" width="32.50" height="5.02" fill="#4e492d"/>
<rect x="315.75" y="279.88" width="13.85" height="5.62" fill="#2f2132"/>
<rect x="329.60" y="279.88" width="13.25" height="5.62" fill="#423939"/>
<rect x="344.15" y="279.88" width="59.60" height="5.02" fill="#262222"/>
<rect x="405.05" y="279.88" width="46.95" height="5.02" fill="#a1a132"/>
<rect x="184.00" y="43.94" width="5.00" height="5.62" fill="#434322"/>
<rect x="184.00" y="53.98" width="5.00" height="5.62" fill="#2d222d"/>
<rect x="184.00" y="64.02" width="5.00" height="5.62" fill="#434327"/>
<rect x="184.00" y="89.12" width="5.00" height="5.62" fill="#2d222d"/>
<rect x="184.00" y="94.14" width="5.00" height="5.62" fill="#cabe65"/>
<rect x="184.00" y="104.18" width="5.00" height="5.62" fill="#929238"/>
<rect x="184.00" y="134.30" width="5.00" height="5.62" fill="#656522"/>
<rect x="184.00" y="139.32" width="5.00" height="5.62" fill="#6a6a24"/>
<rect x="184.00" y="144.34" width="5.00" height="5.62" fill="#5f5f22"/>
<rect x="184.00" y="154.38" width="5.00" height="5.62" fill="#434322"/>
<rect x="400.60" y="33.90" width="3.10" height="251.00" fill="#8a4a96" opacity="0.45"/>
<rect x="42.00" y="33.90" width="1.50" height="251.00" fill="#000" opacity="0.076"/>
<rect x="43.50" y="33.90" width="1.50" height="251.00" fill="#000" opacity="0.052"/>
<rect x="45.00" y="33.90" width="1.00" height="251.00" fill="#000" opacity="0.066"/>
<rect x="46.00" y="33.90" width="1.00" height="251.00" fill="#000" opacity="0.029"/>
<rect x="47.00" y="33.90" width="1.00" height="251.00" fill="#000" opacity="0.073"/>
<rect x="48.00" y="33.90" width="1.00" height="251.00" fill="#000" opacity="0.003"/>
<rect x="49.00" y="33.90" width="1.50" height="251.00" fill="#000" opacity="0.033"/>
<rect x="50.50" y="33.90" width="1.00" height="251.00" fill="#000" opacity="0.007"/>
<rect x="51.50" y="33.90" width="1.50" height="251.00" fill="#000" opacity="0.005"/>
<rect x="53.00" y="33.90" width="2.00" height="251.00" fill="#000" opacity="0.010"/>
<rect x="55.00" y="33.90" width="0.75" height="251.00" fill="#000" opacity="0.050"/>
<rect x="57.05" y="33.90" width="2.00" height="251.00" fill="#000" opacity="0.076"/>
<rect x="59.05" y="33.90" width="2.00" height="251.00" fill="#000" opacity="0.047"/>
<rect x="61.05" y="33.90" width="1.00" height="251.00" fill="#000" opacity="0.078"/>
<rect x="62.05" y="33.90" width="1.00" height="251.00" fill="#000" opacity="0.045"/>
<rect x="63.05" y="33.90" width="1.00" height="251.00" fill="#000" opacity="0.023"/>
<rect x="64.05" y="33.90" width="1.00" height="251.00" fill="#000" opacity="0.043"/>
<rect x="65.05" y="33.90" width="2.00" height="251.00" fill="#000" opacity="0.025"/>
<rect x="67.05" y="33.90" width="2.00" height="251.00" fill="#000" opacity="0.014"/>
<rect x="69.05" y="33.90" width="2.00" height="251.00" fill="#000" opacity="0.046"/>
<rect x="71.05" y="33.90" width="1.00" height="251.00" fill="#000" opacity="0.030"/>
<rect x="72.05" y="33.90" width="2.00" height="251.00" fill="#000" opacity="0.057"/>
<rect x="74.05" y="33.90" width="1.90" height="251.00" fill="#000" opacity="0.005"/>
<rect x="77.25" y="33.90" width="1.00" height="251.00" fill="#000" opacity="0.040"/>
<rect x="78.25" y="33.90" width="2.00" height="251.00" fill="#000" opacity="0.034"/>
<rect x="80.25" y="33.90" width="1.50" height="251.00" fill="#000" opacity="0.037"/>
<rect x="81.75" y="33.90" width="1.50" height="251.00" fill="#000" opacity="0.029"/>
<rect x="83.25" y="33.90" width="1.00" height="251.00" fill="#000" opacity="0.064"/>
<rect x="84.25" y="33.90" width="2.00" height="251.00" fill="#000" opacity="0.062"/>
<rect x="86.25" y="33.90" width="1.00" height="251.00" fill="#000" opacity="0.046"/>
<rect x="87.25" y="33.90" width="2.00" height="251.00" fill="#000" opacity="0.040"/>
<rect x="89.25" y="33.90" width="1.50" height="251.00" fill="#000" opacity="0.058"/>
<rect x="90.75" y="33.90" width="1.50" height="251.00" fill="#000" opacity="0.049"/>
<rect x="92.25" y="33.90" width="1.00" height="251.00" fill="#000" opacity="0.009"/>
<rect x="93.25" y="33.90" width="1.50" height="251.00" fill="#000" opacity="0.013"/>
<rect x="94.75" y="33.90" width="1.50" height="251.00" fill="#000" opacity="0.012"/>
<rect x="96.25" y="33.90" width="1.50" height="251.00" fill="#000" opacity="0.034"/>
<rect x="97.75" y="33.90" width="2.00" height="251.00" fill="#000" opacity="0.006"/>
<rect x="99.75" y="33.90" width="2.00" height="251.00" fill="#000" opacity="0.046"/>
<rect x="101.75" y="33.90" width="1.50" height="251.00" fill="#000" opacity="0.027"/>
<rect x="103.25" y="33.90" width="1.50" height="251.00" fill="#000" opacity="0.048"/>
<rect x="104.75" y="33.90" width="2.00" height="251.00" fill="#000" opacity="0.064"/>
<rect x="106.75" y="33.90" width="1.00" height="251.00" fill="#000" opacity="0.067"/>
<rect x="107.75" y="33.90" width="1.50" height="251.00" fill="#000" opacity="0.038"/>
<rect x="109.25" y="33.90" width="2.00" height="251.00" fill="#000" opacity="0.005"/>
<rect x="111.25" y="33.90" width="2.00" height="251.00" fill="#000" opacity="0.056"/>
<rect x="113.25" y="33.90" width="2.00" height="251.00" fill="#000" opacity="0.046"/>
<rect x="115.25" y="33.90" width="2.00" height="251.00" fill="#000" opacity="0.066"/>
<rect x="117.25" y="33.90" width="1.50" height="251.00" fill="#000" opacity="0.057"/>
<rect x="118.75" y="33.90" width="2.00" height="251.00" fill="#000" opacity="0.028"/>
<rect x="120.75" y="33.90" width="1.50" height="251.00" fill="#000" opacity="0.028"/>
<rect x="122.25" y="33.90" width="2.00" height="251.00" fill="#000" opacity="0.009"/>
<rect x="124.25" y="33.90" width="1.00" height="251.00" fill="#000" opacity="0.017"/>
<rect x="125.25" y="33.90" width="1.50" height="251.00" fill="#000" opacity="0.010"/>
<rect x="126.75" y="33.90" width="1.00" height="251.00" fill="#000" opacity="0.032"/>
<rect x="127.75" y="33.90" width="1.50" height="251.00" fill="#000" opacity="0.006"/>
<rect x="129.25" y="33.90" width="1.50" height="251.00" fill="#000" opacity="0.032"/>
<rect x="130.75" y="33.90" width="1.50" height="251.00" fill="#000" opacity="0.071"/>
<rect x="132.25" y="33.90" width="1.50" height="251.00" fill="#000" opacity="0.069"/>
<rect x="133.75" y="33.90" width="1.50" height="251.00" fill="#000" opacity="0.057"/>
<rect x="135.25" y="33.90" width="1.50" height="251.00" fill="#000" opacity="0.055"/>
<rect x="136.75" y="33.90" width="1.50" height="251.00" fill="#000" opacity="0.077"/>
<rect x="138.25" y="33.90" width="1.00" height="251.00" fill="#000" opacity="0.007"/>
<rect x="139.25" y="33.90" width="1.00" height="251.00" fill="#000" opacity="0.019"/>
<rect x="140.25" y="33.90" width="1.00" height="251.00" fill="#000" opacity="0.001"/>
<rect x="141.25" y="33.90" width="2.00" height="251.00" fill="#000" opacity="0.015"/>
<rect x="143.25" y="33.90" width="1.50" height="251.00" fill="#000" opacity="0.000"/>
<rect x="144.75" y="33.90" width="1.50" height="251.00" fill="#000" opacity="0.043"/>
<rect x="146.25" y="33.90" width="2.00" height="251.00" fill="#000" opacity="0.045"/>
<rect x="148.25" y="33.90" width="1.00" height="251.00" fill="#000" opacity="0.055"/>
<rect x="149.25" y="33.90" width="2.00" height="251.00" fill="#000" opacity="0.076"/>
<rect x="151.25" y="33.90" width="2.00" height="251.00" fill="#000" opacity="0.054"/>
<rect x="153.25" y="33.90" width="1.00" height="251.00" fill="#000" opacity="0.037"/>
<rect x="154.25" y="33.90" width="2.00" height="251.00" fill="#000" opacity="0.064"/>
<rect x="156.25" y="33.90" width="1.50" height="251.00" fill="#000" opacity="0.032"/>
<rect x="157.75" y="33.90" width="1.50" height="251.00" fill="#000" opacity="0.008"/>
<rect x="159.25" y="33.90" width="2.00" height="251.00" fill="#000" opacity="0.032"/>
<rect x="161.25" y="33.90" width="1.00" height="251.00" fill="#000" opacity="0.005"/>
<rect x="162.25" y="33.90" width="1.00" height="251.00" fill="#000" opacity="0.035"/>
<rect x="163.25" y="33.90" width="1.00" height="251.00" fill="#000" opacity="0.027"/>
<rect x="164.25" y="33.90" width="1.00" height="251.00" fill="#000" opacity="0.008"/>
<rect x="166.55" y="33.90" width="2.00" height="251.00" fill="#000" opacity="0.012"/>
<rect x="168.55" y="33.90" width="1.00" height="251.00" fill="#000" opacity="0.076"/>
<rect x="169.55" y="33.90" width="2.00" height="251.00" fill="#000" opacity="0.002"/>
<rect x="171.55" y="33.90" width="1.00" height="251.00" fill="#000" opacity="0.049"/>
<rect x="172.55" y="33.90" width="1.00" height="251.00" fill="#000" opacity="0.051"/>
<rect x="173.55" y="33.90" width="1.50" height="251.00" fill="#000" opacity="0.048"/>
<rect x="175.05" y="33.90" width="1.50" height="251.00" fill="#000" opacity="0.010"/>
<rect x="176.55" y="33.90" width="1.50" height="251.00" fill="#000" opacity="0.079"/>
<rect x="178.05" y="33.90" width="1.50" height="251.00" fill="#000" opacity="0.038"/>
<rect x="179.55" y="33.90" width="1.50" height="251.00" fill="#000" opacity="0.007"/>
<rect x="181.05" y="33.90" width="1.00" height="251.00" fill="#000" opacity="0.060"/>
<rect x="182.05" y="33.90" width="2.00" height="251.00" fill="#000" opacity="0.021"/>
<rect x="184.05" y="33.90" width="2.00" height="251.00" fill="#000" opacity="0.013"/>
<rect x="186.05" y="33.90" width="1.00" height="251.00" fill="#000" opacity="0.016"/>
<rect x="187.05" y="33.90" width="2.00" height="251.00" fill="#000" opacity="0.029"/>
<rect x="189.05" y="33.90" width="2.00" height="251.00" fill="#000" opacity="0.043"/>
<rect x="191.05" y="33.90" width="1.00" height="251.00" fill="#000" opacity="0.061"/>
<rect x="192.05" y="33.90" width="1.50" height="251.00" fill="#000" opacity="0.078"/>
<rect x="193.55" y="33.90" width="1.00" height="251.00" fill="#000" opacity="0.056"/>
<rect x="194.55" y="33.90" width="1.50" height="251.00" fill="#000" opacity="0.041"/>
<rect x="196.05" y="33.90" width="1.00" height="251.00" fill="#000" opacity="0.028"/>
<rect x="197.05" y="33.90" width="1.00" height="251.00" fill="#000" opacity="0.043"/>
<rect x="198.05" y="33.90" width="2.00" height="251.00" fill="#000" opacity="0.026"/>
<rect x="200.05" y="33.90" width="1.00" height="251.00" fill="#000" opacity="0.049"/>
<rect x="201.05" y="33.90" width="1.00" height="251.00" fill="#000" opacity="0.064"/>
<rect x="202.05" y="33.90" width="1.50" height="251.00" fill="#000" opacity="0.059"/>
<rect x="203.55" y="33.90" width="1.00" height="251.00" fill="#000" opacity="0.016"/>
<rect x="204.55" y="33.90" width="1.50" height="251.00" fill="#000" opacity="0.028"/>
<rect x="206.05" y="33.90" width="1.00" height="251.00" fill="#000" opacity="0.079"/>
<rect x="207.05" y="33.90" width="1.50" height="251.00" fill="#000" opacity="0.038"/>
<rect x="208.55" y="33.90" width="1.00" height="251.00" fill="#000" opacity="0.055"/>
<rect x="209.55" y="33.90" width="1.50" height="251.00" fill="#000" opacity="0.036"/>
<rect x="211.05" y="33.90" width="2.00" height="251.00" fill="#000" opacity="0.079"/>
<rect x="214.85" y="33.90" width="1.50" height="251.00" fill="#000" opacity="0.006"/>
<rect x="216.35" y="33.90" width="1.00" height="251.00" fill="#000" opacity="0.018"/>
<rect x="217.35" y="33.90" width="1.00" height="251.00" fill="#000" opacity="0.027"/>
<rect x="218.35" y="33.90" width="1.50" height="251.00" fill="#000" opacity="0.050"/>
<rect x="219.85" y="33.90" width="2.00" height="251.00" fill="#000" opacity="0.067"/>
<rect x="221.85" y="33.90" width="1.50" height="251.00" fill="#000" opacity="0.073"/>
<rect x="223.35" y="33.90" width="1.50" height="251.00" fill="#000" opacity="0.064"/>
<rect x="224.85" y="33.90" width="1.00" height="251.00" fill="#000" opacity="0.067"/>
<rect x="225.85" y="33.90" width="1.00" height="251.00" fill="#000" opacity="0.073"/>
<rect x="226.85" y="33.90" width="2.00" height="251.00" fill="#000" opacity="0.060"/>
<rect x="228.85" y="33.90" width="1.50" height="251.00" fill="#000" opacity="0.071"/>
<rect x="230.35" y="33.90" width="1.50" height="251.00" fill="#000" opacity="0.063"/>
<rect x="231.85" y="33.90" width="1.50" height="251.00" fill="#000" opacity="0.007"/>
<rect x="233.35" y="33.90" width="2.00" height="251.00" fill="#000" opacity="0.032"/>
<rect x="235.35" y="33.90" width="1.50" height="251.00" fill="#000" opacity="0.059"/>
<rect x="236.85" y="33.90" width="1.00" height="251.00" fill="#000" opacity="0.058"/>
<rect x="237.85" y="33.90" width="1.00" height="251.00" fill="#000" opacity="0.079"/>
<rect x="238.85" y="33.90" width="1.00" height="251.00" fill="#000" opacity="0.012"/>
<rect x="239.85" y="33.90" width="1.50" height="251.00" fill="#000" opacity="0.065"/>
<rect x="241.35" y="33.90" width="1.00" height="251.00" fill="#000" opacity="0.049"/>
<rect x="242.35" y="33.90" width="2.00" height="251.00" fill="#000" opacity="0.078"/>
<rect x="244.35" y="33.90" width="2.00" height="251.00" fill="#000" opacity="0.075"/>
<rect x="246.35" y="33.90" width="1.00" height="251.00" fill="#000" opacity="0.044"/>
<rect x="247.35" y="33.90" width="1.00" height="251.00" fill="#000" opacity="0.002"/>
<rect x="248.35" y="33.90" width="1.30" height="251.00" fill="#000" opacity="0.052"/>
<rect x="250.95" y="33.90" width="2.00" height="251.00" fill="#000" opacity="0.060"/>
<rect x="252.95" y="33.90" width="1.00" height="251.00" fill="#000" opacity="0.035"/>
<rect x="253.95" y="33.90" width="1.00" height="251.00" fill="#000" opacity="0.066"/>
<rect x="254.95" y="33.90" width="1.00" height="251.00" fill="#000" opacity="0.002"/>
<rect x="255.95" y="33.90" width="1.00" height="251.00" fill="#000" opacity="0.023"/>
<rect x="256.95" y="33.90" width="1.00" height="251.00" fill="#000" opacity="0.061"/>
<rect x="257.95" y="33.90" width="1.50" height="251.00" fill="#000" opacity="0.021"/>
<rect x="259.45" y="33.90" width="1.50" height="251.00" fill="#000" opacity="0.067"/>
<rect x="260.95" y="33.90" width="1.00" height="251.00" fill="#000" opacity="0.073"/>
<rect x="261.95" y="33.90" width="1.50" height="251.00" fill="#000" opacity="0.072"/>
<rect x="263.45" y="33.90" width="2.00" height="251.00" fill="#000" opacity="0.047"/>
<rect x="265.45" y="33.90" width="2.00" height="251.00" fill="#000" opacity="0.034"/>
<rect x="267.45" y="33.90" width="2.00" height="251.00" fill="#000" opacity="0.010"/>
<rect x="269.45" y="33.90" width="1.00" height="251.00" fill="#000" opacity="0.042"/>
<rect x="270.45" y="33.90" width="1.00" height="251.00" fill="#000" opacity="0.070"/>
<rect x="271.45" y="33.90" width="1.00" height="251.00" fill="#000" opacity="0.049"/>
<rect x="272.45" y="33.90" width="1.00" height="251.00" fill="#000" opacity="0.014"/>
<rect x="273.45" y="33.90" width="1.50" height="251.00" fill="#000" opacity="0.050"/>
<rect x="274.95" y="33.90" width="1.00" height="251.00" fill="#000" opacity="0.045"/>
<rect x="275.95" y="33.90" width="1.50" height="251.00" fill="#000" opacity="0.055"/>
<rect x="277.45" y="33.90" width="2.00" height="251.00" fill="#000" opacity="0.044"/>
<rect x="279.45" y="33.90" width="1.00" height="251.00" fill="#000" opacity="0.071"/>
<rect x="281.95" y="33.90" width="1.00" height="251.00" fill="#000" opacity="0.020"/>
<rect x="282.95" y="33.90" width="1.50" height="251.00" fill="#000" opacity="0.003"/>
<rect x="284.45" y="33.90" width="1.00" height="251.00" fill="#000" opacity="0.041"/>
<rect x="285.45" y="33.90" width="2.00" height="251.00" fill="#000" opacity="0.002"/>
<rect x="287.45" y="33.90" width="1.00" height="251.00" fill="#000" opacity="0.035"/>
<rect x="288.45" y="33.90" width="2.00" height="251.00" fill="#000" opacity="0.078"/>
<rect x="290.45" y="33.90" width="2.00" height="251.00" fill="#000" opacity="0.041"/>
<rect x="292.45" y="33.90" width="2.00" height="251.00" fill="#000" opacity="0.022"/>
<rect x="294.45" y="33.90" width="2.00" height="251.00" fill="#000" opacity="0.043"/>
<rect x="296.45" y="33.90" width="1.50" height="251.00" fill="#000" opacity="0.041"/>
<rect x="297.95" y="33.90" width="1.00" height="251.00" fill="#000" opacity="0.056"/>
<rect x="298.95" y="33.90" width="1.50" height="251.00" fill="#000" opacity="0.074"/>
<rect x="300.45" y="33.90" width="1.00" height="251.00" fill="#000" opacity="0.067"/>
<rect x="301.45" y="33.90" width="1.00" height="251.00" fill="#000" opacity="0.033"/>
<rect x="302.45" y="33.90" width="1.50" height="251.00" fill="#000" opacity="0.035"/>
<rect x="303.95" y="33.90" width="1.00" height="251.00" fill="#000" opacity="0.054"/>
<rect x="304.95" y="33.90" width="1.50" height="251.00" fill="#000" opacity="0.006"/>
<rect x="306.45" y="33.90" width="2.00" height="251.00" fill="#000" opacity="0.024"/>
<rect x="308.45" y="33.90" width="1.00" height="251.00" fill="#000" opacity="0.072"/>
<rect x="309.45" y="33.90" width="1.00" height="251.00" fill="#000" opacity="0.075"/>
<rect x="310.45" y="33.90" width="2.00" height="251.00" fill="#000" opacity="0.053"/>
<rect x="312.45" y="33.90" width="1.00" height="251.00" fill="#000" opacity="0.020"/>
<rect x="313.45" y="33.90" width="1.00" height="251.00" fill="#000" opacity="0.077"/>
<rect x="315.75" y="33.90" width="1.00" height="251.00" fill="#000" opacity="0.060"/>
<rect x="316.75" y="33.90" width="1.00" height="251.00" fill="#000" opacity="0.032"/>
<rect x="317.75" y="33.90" width="1.50" height="251.00" fill="#000" opacity="0.013"/>
<rect x="319.25" y="33.90" width="2.00" height="251.00" fill="#000" opacity="0.067"/>
<rect x="321.25" y="33.90" width="1.00" height="251.00" fill="#000" opacity="0.057"/>
<rect x="322.25" y="33.90" width="2.00" height="251.00" fill="#000" opacity="0.032"/>
<rect x="324.25" y="33.90" width="1.50" height="251.00" fill="#000" opacity="0.016"/>
<rect x="325.75" y="33.90" width="1.50" height="251.00" fill="#000" opacity="0.007"/>
<rect x="327.25" y="33.90" width="1.50" height="251.00" fill="#000" opacity="0.002"/>
<rect x="328.75" y="33.90" width="2.00" height="251.00" fill="#000" opacity="0.037"/>
<rect x="330.75" y="33.90" width="2.00" height="251.00" fill="#000" opacity="0.001"/>
<rect x="332.75" y="33.90" width="1.50" height="251.00" fill="#000" opacity="0.041"/>
<rect x="334.25" y="33.90" width="1.50" height="251.00" fill="#000" opacity="0.041"/>
<rect x="335.75" y="33.90" width="1.00" height="251.00" fill="#000" opacity="0.009"/>
<rect x="336.75" y="33.90" width="1.00" height="251.00" fill="#000" opacity="0.078"/>
<rect x="337.75" y="33.90" width="1.00" height="251.00" fill="#000" opacity="0.007"/>
<rect x="338.75" y="33.90" width="1.50" height="251.00" fill="#000" opacity="0.003"/>
<rect x="340.25" y="33.90" width="1.00" height="251.00" fill="#000" opacity="0.022"/>
<rect x="341.25" y="33.90" width="1.00" height="251.00" fill="#000" opacity="0.066"/>
<rect x="342.25" y="33.90" width="0.60" height="251.00" fill="#000" opacity="0.066"/>
<rect x="344.15" y="33.90" width="1.50" height="251.00" fill="#000" opacity="0.032"/>
<rect x="345.65" y="33.90" width="2.00" height="251.00" fill="#000" opacity="0.074"/>
<rect x="347.65" y="33.90" width="2.00" height="251.00" fill="#000" opacity="0.040"/>
<rect x="349.65" y="33.90" width="1.50" height="251.00" fill="#000" opacity="0.007"/>
<rect x="351.15" y="33.90" width="1.00" height="251.00" fill="#000" opacity="0.064"/>
<rect x="352.15" y="33.90" width="1.00" height="251.00" fill="#000" opacity="0.034"/>
<rect x="353.15" y="33.90" width="1.00" height="251.00" fill="#000" opacity="0.022"/>
<rect x="354.15" y="33.90" width="1.00" height="251.00" fill="#000" opacity="0.051"/>
<rect x="355.15" y="33.90" width="1.50" height="251.00" fill="#000" opacity="0.007"/>
<rect x="356.65" y="33.90" width="1.00" height="251.00" fill="#000" opacity="0.005"/>
<rect x="357.65" y="33.90" width="1.00" height="251.00" fill="#000" opacity="0.036"/>
<rect x="358.65" y="33.90" width="1.50" height="251.00" fill="#000" opacity="0.080"/>
<rect x="360.15" y="33.90" width="1.50" height="251.00" fill="#000" opacity="0.074"/>
<rect x="361.65" y="33.90" width="1.50" height="251.00" fill="#000" opacity="0.050"/>
<rect x="363.15" y="33.90" width="1.00" height="251.00" fill="#000" opacity="0.042"/>
<rect x="364.15" y="33.90" width="1.00" height="251.00" fill="#000" opacity="0.075"/>
<rect x="365.15" y="33.90" width="1.00" height="251.00" fill="#000" opacity="0.021"/>
<rect x="366.15" y="33.90" width="1.00" height="251.00" fill="#000" opacity="0.016"/>
<rect x="367.15" y="33.90" width="1.50" height="251.00" fill="#000" opacity="0.050"/>
<rect x="368.65" y="33.90" width="2.00" height="251.00" fill="#000" opacity="0.061"/>
<rect x="370.65" y="33.90" width="1.50" height="251.00" fill="#000" opacity="0.036"/>
<rect x="372.15" y="33.90" width="2.00" height="251.00" fill="#000" opacity="0.014"/>
<rect x="374.15" y="33.90" width="1.50" height="251.00" fill="#000" opacity="0.064"/>
<rect x="375.65" y="33.90" width="1.50" height="251.00" fill="#000" opacity="0.003"/>
<rect x="377.15" y="33.90" width="1.00" height="251.00" fill="#000" opacity="0.059"/>
<rect x="378.15" y="33.90" width="2.00" height="251.00" fill="#000" opacity="0.078"/>
<rect x="380.15" y="33.90" width="2.00" height="251.00" fill="#000" opacity="0.038"/>
<rect x="382.15" y="33.90" width="1.50" height="251.00" fill="#000" opacity="0.009"/>
<rect x="383.65" y="33.90" width="2.00" height="251.00" fill="#000" opacity="0.035"/>
<rect x="385.65" y="33.90" width="1.50" height="251.00" fill="#000" opacity="0.044"/>
<rect x="387.15" y="33.90" width="1.50" height="251.00" fill="#000" opacity="0.078"/>
<rect x="388.65" y="33.90" width="1.50" height="251.00" fill="#000" opacity="0.055"/>
<rect x="390.15" y="33.90" width="1.00" height="251.00" fill="#000" opacity="0.027"/>
<rect x="391.15" y="33.90" width="2.00" height="251.00" fill="#000" opacity="0.058"/>
<rect x="393.15" y="33.90" width="1.00" height="251.00" fill="#000" opacity="0.032"/>
<rect x="394.15" y="33.90" width="1.50" height="251.00" fill="#000" opacity="0.079"/>
<rect x="395.65" y="33.90" width="1.00" height="251.00" fill="#000" opacity="0.001"/>
<rect x="396.65" y="33.90" width="2.00" height="251.00" fill="#000" opacity="0.059"/>
<rect x="398.65" y="33.90" width="1.50" height="251.00" fill="#000" opacity="0.034"/>
<rect x="400.15" y="33.90" width="1.00" height="251.00" fill="#000" opacity="0.007"/>
<rect x="401.15" y="33.90" width="1.50" height="251.00" fill="#000" opacity="0.070"/>
<rect x="402.65" y="33.90" width="1.10" height="251.00" fill="#000" opacity="0.078"/>
<rect x="405.05" y="33.90" width="2.00" height="251.00" fill="#000" opacity="0.019"/>
<rect x="407.05" y="33.90" width="1.50" height="251.00" fill="#000" opacity="0.004"/>
<rect x="408.55" y="33.90" width="1.00" height="251.00" fill="#000" opacity="0.013"/>
<rect x="409.55" y="33.90" width="1.50" height="251.00" fill="#000" opacity="0.000"/>
<rect x="411.05" y="33.90" width="1.50" height="251.00" fill="#000" opacity="0.077"/>
<rect x="412.55" y="33.90" width="2.00" height="251.00" fill="#000" opacity="0.026"/>
<rect x="414.55" y="33.90" width="1.00" height="251.00" fill="#000" opacity="0.077"/>
<rect x="415.55" y="33.90" width="1.50" height="251.00" fill="#000" opacity="0.017"/>
<rect x="417.05" y="33.90" width="1.00" height="251.00" fill="#000" opacity="0.000"/>
<rect x="418.05" y="33.90" width="1.50" height="251.00" fill="#000" opacity="0.007"/>
<rect x="419.55" y="33.90" width="1.50" height="251.00" fill="#000" opacity="0.040"/>
<rect x="421.05" y="33.90" width="1.00" height="251.00" fill="#000" opacity="0.020"/>
<rect x="422.05" y="33.90" width="1.00" height="251.00" fill="#000" opacity="0.007"/>
<rect x="423.05" y="33.90" width="1.00" height="251.00" fill="#000" opacity="0.012"/>
<rect x="424.05" y="33.90" width="2.00" height="251.00" fill="#000" opacity="0.003"/>
<rect x="426.05" y="33.90" width="1.00" height="251.00" fill="#000" opacity="0.024"/>
<rect x="427.05" y="33.90" width="2.00" height="251.00" fill="#000" opacity="0.019"/>
<rect x="429.05" y="33.90" width="2.00" height="251.00" fill="#000" opacity="0.077"/>
<rect x="431.05" y="33.90" width="1.00" height="251.00" fill="#000" opacity="0.053"/>
<rect x="432.05" y="33.90" width="2.00" height="251.00" fill="#000" opacity="0.063"/>
<rect x="434.05" y="33.90" width="2.00" height="251.00" fill="#000" opacity="0.031"/>
<rect x="436.05" y="33.90" width="1.50" height="251.00" fill="#000" opacity="0.058"/>
<rect x="437.55" y="33.90" width="1.50" height="251.00" fill="#000" opacity="0.012"/>
<rect x="439.05" y="33.90" width="2.00" height="251.00" fill="#000" opacity="0.049"/>
<rect x="441.05" y="33.90" width="1.00" height="251.00" fill="#000" opacity="0.004"/>
<rect x="442.05" y="33.90" width="2.00" height="251.00" fill="#000" opacity="0.071"/>
<rect x="444.05" y="33.90" width="2.00" height="251.00" fill="#000" opacity="0.034"/>
<rect x="446.05" y="33.90" width="2.00" height="251.00" fill="#000" opacity="0.065"/>
<rect x="448.05" y="33.90" width="1.00" height="251.00" fill="#000" opacity="0.073"/>
<rect x="449.05" y="33.90" width="2.00" height="251.00" fill="#000" opacity="0.045"/>
<rect x="451.05" y="33.90" width="0.95" height="251.00" fill="#000" opacity="0.066"/>
<filter id="grain" x="0" y="0" width="1" height="1" filterUnits="objectBoundingBox"><feTurbulence type="fractalNoise" baseFrequency="0.85 0.18" numOctaves="1" seed="5"/><feColorMatrix type="matrix" values="0 0 0 0 0  0 0 0 0 0  0 0 0 0 0  0.9 0 0 0 -0.33"/></filter>
<rect x="42.00" y="33.90" width="410.00" height="251.00" fill="#000" filter="url(#grain)" opacity="0.55"/>
<rect x="55.75" y="33.40" width="1.30" height="252.00" fill="#ffffff"/>
<rect x="75.95" y="33.40" width="1.30" height="252.00" fill="#ffffff"/>
<rect x="165.25" y="33.40" width="1.30" height="252.00" fill="#ffffff"/>
<rect x="213.55" y="33.40" width="1.30" height="252.00" fill="#ffffff"/>
<rect x="249.65" y="33.40" width="1.30" height="252.00" fill="#ffffff"/>
<rect x="280.65" y="33.40" width="1.30" height="252.00" fill="#ffffff"/>
<rect x="314.45" y="33.40" width="1.30" height="252.00" fill="#ffffff"/>
<rect x="342.85" y="33.40" width="1.30" height="252.00" fill="#ffffff"/>
<rect x="403.75" y="33.40" width="1.30" height="252.00" fill="#ffffff"/>
<text x="38.90" y="38.72" font-size="5.3" text-anchor="end" fill="#222">ATF5(+)</text>
<text x="38.90" y="43.74" font-size="5.3" text-anchor="end" fill="#222">HMGA1(+)</text>
<text x="38.90" y="48.76" font-size="5.3" text-anchor="end" fill="#222">MYEF2(+)</text>
<text x="38.90" y="53.78" font-size="5.3" text-anchor="end" fill="#222">GABPB1(+)</text>
<text x="38.90" y="58.80" font-size="5.3" text-anchor="end" fill="#222">HNF4A(+)</text>
<text x="38.90" y="63.82" font-size="5.3" text-anchor="end" fill="#222">LMO2(+)</text>
<text x="38.90" y="68.84" font-size="5.3" text-anchor="end" fill="#222">PITX2(+)</text>
<text x="38.90" y="73.86" font-size="5.3" text-anchor="end" fill="#222">FOXM1(+)</text>
<text x="38.90" y="78.88" font-size="5.3" text-anchor="end" fill="#222">NHLH1(+)</text>
<text x="38.90" y="83.90" font-size="5.3" text-anchor="end" fill="#222">TFAP2A(+)</text>
<text x="38.90" y="88.92" font-size="5.3" text-anchor="end" fill="#222">HSF1(+)</text>
<text x="38.90" y="93.94" font-size="5.3" text-anchor="end" fill="#222">GATA5(+)</text>
<text x="38.90" y="98.96" font-size="5.3" text-anchor="end" fill="#222">TET1(+)</text>
<text x="38.90" y="103.98" font-size="5.3" text-anchor="end" fill="#222">GATA1(+)</text>
<text x="38.90" y="109.00" font-size="5.3" text-anchor="end" fill="#222">IRF6(+)</text>
<text x="38.90" y="114.02" font-size="5.3" text-anchor="end" fill="#222">ASCL2(+)</text>
<text x="38.90" y="119.04" font-size="5.3" text-anchor="end" fill="#222">AKR1A1(+)</text>
<text x="38.90" y="124.06" font-size="5.3" text-anchor="end" fill="#222">THRA(+)</text>
<text x="38.90" y="129.08" font-size="5.3" text-anchor="end" fill="#222">FOXC1(+)</text>
<text x="38.90" y="134.10" font-size="5.3" text-anchor="end" fill="#222">DDIT3(+)</text>
<text x="38.90" y="139.12" font-size="5.3" text-anchor="end" fill="#222">POLE4(+)</text>
<text x="38.90" y="144.14" font-size="5.3" text-anchor="end" fill="#222">POLE3(+)</text>
<text x="38.90" y="149.16" font-size="5.3" text-anchor="end" fill="#222">MAZ(+)</text>
<text x="38.90" y="154.18" font-size="5.3" text-anchor="end" fill="#222">LIN28B(+)</text>
<text x="38.90" y="159.20" font-size="5.3" text-anchor="end" fill="#222">CEBPZ(+)</text>
<text x="38.90" y="164.22" font-size="5.3" text-anchor="end" fill="#222">MYBL2(+)</text>
<text x="38.90" y="169.24" font-size="5.3" text-anchor="end" fill="#222">BCL11A(+)</text>
<text x="38.90" y="174.26" font-size="5.3" text-anchor="end" fill="#222">E2F7(+)</text>
<text x="38.90" y="179.28" font-size="5.3" text-anchor="end" fill="#222">E2F8(+)</text>
<text x="38.90" y="184.30" font-size="5.3" text-anchor="end" fill="#222">SOX6(+)</text>
<text x="38.90" y="189.32" font-size="5.3" text-anchor="end" fill="#222">E2F1(+)</text>
<text x="38.90" y="194.34" font-size="5.3" text-anchor="end" fill="#222">TFDP1(+)</text>
<text x="38.90" y="199.36" font-size="5.3" text-anchor="end" fill="#222">KLF13(+)</text>
<text x="38.90" y="204.38" font-size="5.3" text-anchor="end" fill="#222">ZNF619(+)</text>
<text x="38.90" y="209.40" font-size="5.3" text-anchor="end" fill="#222">NR2F1(+)</text>
<text x="38.90" y="214.42" font-size="5.3" text-anchor="end" fill="#222">EP300(+)</text>
<text x="38.90" y="219.44" font-size="5.3" text-anchor="end" fill="#222">HIF3A(+)</text>
<text x="38.90" y="224.46" font-size="5.3" text-anchor="end" fill="#222">FOSB(+)</text>
<text x="38.90" y="229.48" font-size="5.3" text-anchor="end" fill="#222">BPTF(+)</text>
<text x="38.90" y="234.50" font-size="5.3" text-anchor="end" fill="#222">DLX2(+)</text>
<text x="38.90" y="239.52" font-size="5.3" text-anchor="end" fill="#222">HBP1(+)</text>
<text x="38.90" y="244.54" font-size="5.3" text-anchor="end" fill="#222">KLF3(+)</text>
<text x="38.90" y="249.56" font-size="5.3" text-anchor="end" fill="#222">TCF3(+)</text>
<text x="38.90" y="254.58" font-size="5.3" text-anchor="end" fill="#222">NFIX(+)</text>
<text x="38.90" y="259.60" font-size="5.3" text-anchor="end" fill="#222">IRF3(+)</text>
<text x="38.90" y="264.62" font-size="5.3" text-anchor="end" fill="#222">NR3C1(+)</text>
<text x="38.90" y="269.64" font-size="5.3" text-anchor="end" fill="#222">SNAI1(+)</text>
<text x="38.90" y="274.66" font-size="5.3" text-anchor="end" fill="#222">CSRP2(+)</text>
<text x="38.90" y="279.68" font-size="5.3" text-anchor="end" fill="#222">ELF3(+)</text>
<text x="38.90" y="284.70" font-size="5.3" text-anchor="end" fill="#222">ZNF217(+)</text>
<rect x="457.80" y="36.80" width="6.00" height="5.60" fill="#e8776d"/>
<text x="467.00" y="41.66" font-size="6.0" fill="#222">P_Ery_Mid_G2M</text>
<rect x="457.80" y="46.80" width="6.00" height="5.60" fill="#d6962c"/>
<text x="467.00" y="51.66" font-size="6.0" fill="#222">P_Ery_Late</text>
<rect x="457.80" y="56.80" width="6.00" height="5.60" fill="#a8a82a"/>
<text x="467.00" y="61.66" font-size="6.0" fill="#222">P_Ery_Ter</text>
<rect x="457.80" y="66.80" width="6.00" height="5.60" fill="#52b34a"/>
<text x="467.00" y="71.66" font-size="6.0" fill="#222">Ery_Early</text>
<rect x="457.80" y="76.80" width="6.00" height="5.60" fill="#3cab80"/>
<text x="467.00" y="81.66" font-size="6.0" fill="#222">Ery_Mid_S</text>
<rect x="457.80" y="86.80" width="6.00" height="5.60" fill="#34b5b8"/>
<text x="467.00" y="91.66" font-size="6.0" fill="#222">Ery_Mid_G2M</text>
<rect x="457.80" y="96.80" width="6.00" height="5.60" fill="#3a9ad8"/>
<text x="467.00" y="101.66" font-size="6.0" fill="#222">Ery_Late1</text>
<rect x="457.80" y="106.80" width="6.00" height="5.60" fill="#7f80c2"/>
<text x="467.00" y="111.66" font-size="6.0" fill="#222">Ery_Late2</text>
<rect x="457.80" y="116.80" width="6.00" height="5.60" fill="#a866b2"/>
<text x="467.00" y="121.66" font-size="6.0" fill="#222">Ery_Ter1</text>
<rect x="457.80" y="126.80" width="6.00" height="5.60" fill="#d966a6"/>
<text x="467.00" y="131.66" font-size="6.0" fill="#222">Ery_Ter2</text>
<text x="458.00" y="237.36" font-size="6.0" fill="#222">Expression</text>
<defs><linearGradient id="gA" x1="0" y1="0" x2="0" y2="1"><stop offset="0" stop-color="#dada34"/><stop offset="0.27" stop-color="#7c7c22"/><stop offset="0.5" stop-color="#0c0c0a"/><stop offset="0.7" stop-color="#561270"/><stop offset="1" stop-color="#9c4c9c"/></linearGradient></defs>
<rect x="458.00" y="241.00" width="9.00" height="43.50" fill="url(#gA)"/>
<text x="470.30" y="248.33" font-size="6.2" fill="#222">2</text>
<text x="470.30" y="256.73" font-size="6.2" fill="#222">1</text>
<text x="470.30" y="265.13" font-size="6.2" fill="#222">0</text>
<text x="469.50" y="273.53" font-size="6.2" fill="#222">−1</text>
<text x="469.50" y="281.93" font-size="6.2" fill="#222">−2</text>
<text x="6.80" y="15.82" font-size="11.4" font-weight="bold" fill="#111">A</text>
<text x="6.60" y="309.97" font-size="11.4" font-weight="bold" fill="#111">B</text>
<text x="254.50" y="310.27" font-size="11.4" font-weight="bold" fill="#111">C</text>
<text x="6.50" y="470.42" font-size="11.4" font-weight="bold" fill="#111">D</text>
<text x="254.30" y="491.57" font-size="11.4" font-weight="bold" fill="#111">E</text>
<text x="80.40" y="306.40" font-size="5.8" text-anchor="middle" fill="#231f20">Prim Ery clusters</text>
<text x="163.50" y="306.30" font-size="5.8" text-anchor="middle" fill="#231f20">FL and Def Ery clusters</text>
<rect x="57.00" y="310.30" width="48.00" height="3.90" fill="#d86e62"/>
<rect x="107.10" y="310.30" width="112.10" height="2.10" fill="#72b84a"/>
<rect x="107.10" y="312.30" width="112.10" height="1.90" fill="#7aa0a8"/>
<rect x="56.50" y="315.80" width="16.52" height="7.69" fill="#f08c8c"/>
<rect x="72.72" y="315.80" width="16.52" height="7.69" fill="#f08c8c"/>
<rect x="88.94" y="315.80" width="16.52" height="7.69" fill="#eb5a5a"/>
<rect x="105.16" y="315.80" width="16.52" height="7.69" fill="#96a0d2"/>
<rect x="121.38" y="315.80" width="16.52" height="7.69" fill="#aaafdc"/>
<rect x="137.60" y="315.80" width="16.52" height="7.69" fill="#b4b9dc"/>
<rect x="153.82" y="315.80" width="16.52" height="7.69" fill="#afb4dc"/>
<rect x="170.04" y="315.80" width="16.52" height="7.69" fill="#a0a5d2"/>
<rect x="186.26" y="315.80" width="16.52" height="7.69" fill="#fad2c8"/>
<rect x="202.48" y="315.80" width="16.52" height="7.69" fill="#8c91cd"/>
<rect x="56.50" y="323.19" width="16.52" height="7.69" fill="#f08c8c"/>
<rect x="72.72" y="323.19" width="16.52" height="7.69" fill="#f0a0a0"/>
<rect x="88.94" y="323.19" width="16.52" height="7.69" fill="#e12828"/>
<rect x="105.16" y="323.19" width="16.52" height="7.69" fill="#bec3e1"/>
<rect x="121.38" y="323.19" width="16.52" height="7.69" fill="#c8cde6"/>
<rect x="137.60" y="323.19" width="16.52" height="7.69" fill="#96a0d2"/>
<rect x="153.82" y="323.19" width="16.52" height="7.69" fill="#96a0d2"/>
<rect x="170.04" y="323.19" width="16.52" height="7.69" fill="#b4bee1"/>
<rect x="186.26" y="323.19" width="16.52" height="7.69" fill="#bec3e1"/>
<rect x="202.48" y="323.19" width="16.52" height="7.69" fill="#bec3e1"/>
<rect x="56.50" y="330.58" width="16.52" height="7.69" fill="#f08c8c"/>
<rect x="72.72" y="330.58" width="16.52" height="7.69" fill="#eb6464"/>
<rect x="88.94" y="330.58" width="16.52" height="7.69" fill="#eb6e6e"/>
<rect x="105.16" y="330.58" width="16.52" height="7.69" fill="#c8cde6"/>
<rect x="121.38" y="330.58" width="16.52" height="7.69" fill="#b4b9dc"/>
<rect x="137.60" y="330.58" width="16.52" height="7.69" fill="#bec3e1"/>
<rect x="153.82" y="330.58" width="16.52" height="7.69" fill="#a0a5d2"/>
<rect x="170.04" y="330.58" width="16.52" height="7.69" fill="#aaafdc"/>
<rect x="186.26" y="330.58" width="16.52" height="7.69" fill="#f5f5fa"/>
<rect x="202.48" y="330.58" width="16.52" height="7.69" fill="#646ebe"/>
<rect x="56.50" y="337.97" width="16.52" height="7.69" fill="#f5aaaa"/>
<rect x="72.72" y="337.97" width="16.52" height="7.69" fill="#f5aaaa"/>
<rect x="88.94" y="337.97" width="16.52" height="7.69" fill="#f5a0a0"/>
<rect x="105.16" y="337.97" width="16.52" height="7.69" fill="#f5aaaa"/>
<rect x="121.38" y="337.97" width="16.52" height="7.69" fill="#f5bebe"/>
<rect x="137.60" y="337.97" width="16.52" height="7.69" fill="#f5c8c8"/>
<rect x="153.82" y="337.97" width="16.52" height="7.69" fill="#ebebf5"/>
<rect x="170.04" y="337.97" width="16.52" height="7.69" fill="#bec3e1"/>
<rect x="186.26" y="337.97" width="16.52" height="7.69" fill="#b4b9dc"/>
<rect x="202.48" y="337.97" width="16.52" height="7.69" fill="#1e2382"/>
<rect x="56.50" y="345.36" width="16.52" height="7.69" fill="#fad2d2"/>
<rect x="72.72" y="345.36" width="16.52" height="7.69" fill="#f5aaaa"/>
<rect x="88.94" y="345.36" width="16.52" height="7.69" fill="#b4bee1"/>
<rect x="105.16" y="345.36" width="16.52" height="7.69" fill="#e12323"/>
<rect x="121.38" y="345.36" width="16.52" height="7.69" fill="#f5aaaa"/>
<rect x="137.60" y="345.36" width="16.52" height="7.69" fill="#faf5f5"/>
<rect x="153.82" y="345.36" width="16.52" height="7.69" fill="#5a69b9"/>
<rect x="170.04" y="345.36" width="16.52" height="7.69" fill="#bec3e1"/>
<rect x="186.26" y="345.36" width="16.52" height="7.69" fill="#969bcd"/>
<rect x="202.48" y="345.36" width="16.52" height="7.69" fill="#aaafd7"/>
<rect x="56.50" y="352.75" width="16.52" height="7.69" fill="#b4bee1"/>
<rect x="72.72" y="352.75" width="16.52" height="7.69" fill="#e6e6f5"/>
<rect x="88.94" y="352.75" width="16.52" height="7.69" fill="#aaafdc"/>
<rect x="105.16" y="352.75" width="16.52" height="7.69" fill="#e12323"/>
<rect x="121.38" y="352.75" width="16.52" height="7.69" fill="#f08282"/>
<rect x="137.60" y="352.75" width="16.52" height="7.69" fill="#fae1e1"/>
<rect x="153.82" y="352.75" width="16.52" height="7.69" fill="#c8cdeb"/>
<rect x="170.04" y="352.75" width="16.52" height="7.69" fill="#bec3e1"/>
<rect x="186.26" y="352.75" width="16.52" height="7.69" fill="#dcdcf0"/>
<rect x="202.48" y="352.75" width="16.52" height="7.69" fill="#6e78c3"/>
<rect x="56.50" y="360.14" width="16.52" height="7.69" fill="#8c96d2"/>
<rect x="72.72" y="360.14" width="16.52" height="7.69" fill="#b4bee1"/>
<rect x="88.94" y="360.14" width="16.52" height="7.69" fill="#7882c8"/>
<rect x="105.16" y="360.14" width="16.52" height="7.69" fill="#e12828"/>
<rect x="121.38" y="360.14" width="16.52" height="7.69" fill="#f08282"/>
<rect x="137.60" y="360.14" width="16.52" height="7.69" fill="#f5bebe"/>
<rect x="153.82" y="360.14" width="16.52" height="7.69" fill="#dce1f0"/>
<rect x="170.04" y="360.14" width="16.52" height="7.69" fill="#ebebf5"/>
<rect x="186.26" y="360.14" width="16.52" height="7.69" fill="#bec3e1"/>
<rect x="202.48" y="360.14" width="16.52" height="7.69" fill="#aaafd7"/>
<rect x="56.50" y="367.53" width="16.52" height="7.69" fill="#96a0d2"/>
<rect x="72.72" y="367.53" width="16.52" height="7.69" fill="#6e78c3"/>
<rect x="88.94" y="367.53" width="16.52" height="7.69" fill="#6e78c3"/>
<rect x="105.16" y="367.53" width="16.52" height="7.69" fill="#eb6e6e"/>
<rect x="121.38" y="367.53" width="16.52" height="7.69" fill="#f08282"/>
<rect x="137.60" y="367.53" width="16.52" height="7.69" fill="#f5aaaa"/>
<rect x="153.82" y="367.53" width="16.52" height="7.69" fill="#f09696"/>
<rect x="170.04" y="367.53" width="16.52" height="7.69" fill="#facdcd"/>
<rect x="186.26" y="367.53" width="16.52" height="7.69" fill="#bec3e1"/>
<rect x="202.48" y="367.53" width="16.52" height="7.69" fill="#f8f8fa"/>
<rect x="56.50" y="374.92" width="16.52" height="7.69" fill="#f5f5fa"/>
<rect x="72.72" y="374.92" width="16.52" height="7.69" fill="#7882c8"/>
<rect x="88.94" y="374.92" width="16.52" height="7.69" fill="#7882c8"/>
<rect x="105.16" y="374.92" width="16.52" height="7.69" fill="#f5bebe"/>
<rect x="121.38" y="374.92" width="16.52" height="7.69" fill="#f07878"/>
<rect x="137.60" y="374.92" width="16.52" height="7.69" fill="#f07878"/>
<rect x="153.82" y="374.92" width="16.52" height="7.69" fill="#f07878"/>
<rect x="170.04" y="374.92" width="16.52" height="7.69" fill="#f5f5fa"/>
<rect x="186.26" y="374.92" width="16.52" height="7.69" fill="#8c96cd"/>
<rect x="202.48" y="374.92" width="16.52" height="7.69" fill="#8c96cd"/>
<rect x="56.50" y="382.31" width="16.52" height="7.69" fill="#ebebf5"/>
<rect x="72.72" y="382.31" width="16.52" height="7.69" fill="#6e78c3"/>
<rect x="88.94" y="382.31" width="16.52" height="7.69" fill="#7882c8"/>
<rect x="105.16" y="382.31" width="16.52" height="7.69" fill="#ebebf5"/>
<rect x="121.38" y="382.31" width="16.52" height="7.69" fill="#f5a0a0"/>
<rect x="137.60" y="382.31" width="16.52" height="7.69" fill="#eb6464"/>
<rect x="153.82" y="382.31" width="16.52" height="7.69" fill="#e64646"/>
<rect x="170.04" y="382.31" width="16.52" height="7.69" fill="#fadcdc"/>
<rect x="186.26" y="382.31" width="16.52" height="7.69" fill="#a0aad7"/>
<rect x="202.48" y="382.31" width="16.52" height="7.69" fill="#b4b9dc"/>
<rect x="56.50" y="389.70" width="16.52" height="7.69" fill="#f5826e"/>
<rect x="72.72" y="389.70" width="16.52" height="7.69" fill="#7882c8"/>
<rect x="88.94" y="389.70" width="16.52" height="7.69" fill="#8c96d2"/>
<rect x="105.16" y="389.70" width="16.52" height="7.69" fill="#e6e6f5"/>
<rect x="121.38" y="389.70" width="16.52" height="7.69" fill="#d2d7eb"/>
<rect x="137.60" y="389.70" width="16.52" height="7.69" fill="#dc2323"/>
<rect x="153.82" y="389.70" width="16.52" height="7.69" fill="#f08c8c"/>
<rect x="170.04" y="389.70" width="16.52" height="7.69" fill="#e1e4f0"/>
<rect x="186.26" y="389.70" width="16.52" height="7.69" fill="#aab4dc"/>
<rect x="202.48" y="389.70" width="16.52" height="7.69" fill="#b9bee1"/>
<rect x="56.50" y="397.09" width="16.52" height="7.69" fill="#646ebe"/>
<rect x="72.72" y="397.09" width="16.52" height="7.69" fill="#b4bee1"/>
<rect x="88.94" y="397.09" width="16.52" height="7.69" fill="#7882c8"/>
<rect x="105.16" y="397.09" width="16.52" height="7.69" fill="#96a0d2"/>
<rect x="121.38" y="397.09" width="16.52" height="7.69" fill="#c8cdeb"/>
<rect x="137.60" y="397.09" width="16.52" height="7.69" fill="#faebeb"/>
<rect x="153.82" y="397.09" width="16.52" height="7.69" fill="#f09696"/>
<rect x="170.04" y="397.09" width="16.52" height="7.69" fill="#fad2d2"/>
<rect x="186.26" y="397.09" width="16.52" height="7.69" fill="#f08c82"/>
<rect x="202.48" y="397.09" width="16.52" height="7.69" fill="#e13232"/>
<rect x="56.50" y="404.48" width="16.52" height="7.69" fill="#aab4dc"/>
<rect x="72.72" y="404.48" width="16.52" height="7.69" fill="#fae1e1"/>
<rect x="88.94" y="404.48" width="16.52" height="7.69" fill="#faf5fa"/>
<rect x="105.16" y="404.48" width="16.52" height="7.69" fill="#8c96d2"/>
<rect x="121.38" y="404.48" width="16.52" height="7.69" fill="#96a0d2"/>
<rect x="137.60" y="404.48" width="16.52" height="7.69" fill="#aab4dc"/>
<rect x="153.82" y="404.48" width="16.52" height="7.69" fill="#bec3e1"/>
<rect x="170.04" y="404.48" width="16.52" height="7.69" fill="#f5f5fa"/>
<rect x="186.26" y="404.48" width="16.52" height="7.69" fill="#e14646"/>
<rect x="202.48" y="404.48" width="16.52" height="7.69" fill="#e13232"/>
<rect x="56.50" y="411.87" width="16.52" height="7.69" fill="#aab4dc"/>
<rect x="72.72" y="411.87" width="16.52" height="7.69" fill="#bec3e1"/>
<rect x="88.94" y="411.87" width="16.52" height="7.69" fill="#d2d7eb"/>
<rect x="105.16" y="411.87" width="16.52" height="7.69" fill="#8c96d2"/>
<rect x="121.38" y="411.87" width="16.52" height="7.69" fill="#a0aad7"/>
<rect x="137.60" y="411.87" width="16.52" height="7.69" fill="#b4b9dc"/>
<rect x="153.82" y="411.87" width="16.52" height="7.69" fill="#fadcdc"/>
<rect x="170.04" y="411.87" width="16.52" height="7.69" fill="#f5f5fa"/>
<rect x="186.26" y="411.87" width="16.52" height="7.69" fill="#fad2c8"/>
<rect x="202.48" y="411.87" width="16.52" height="7.69" fill="#dc1e1e"/>
<rect x="56.50" y="419.26" width="16.52" height="7.69" fill="#c8cdeb"/>
<rect x="72.72" y="419.26" width="16.52" height="7.69" fill="#f0f0f8"/>
<rect x="88.94" y="419.26" width="16.52" height="7.69" fill="#fad7d7"/>
<rect x="105.16" y="419.26" width="16.52" height="7.69" fill="#283796"/>
<rect x="121.38" y="419.26" width="16.52" height="7.69" fill="#96a0d2"/>
<rect x="137.60" y="419.26" width="16.52" height="7.69" fill="#d2d7eb"/>
<rect x="153.82" y="419.26" width="16.52" height="7.69" fill="#f5b4b4"/>
<rect x="170.04" y="419.26" width="16.52" height="7.69" fill="#f5f5fa"/>
<rect x="186.26" y="419.26" width="16.52" height="7.69" fill="#f5aaaa"/>
<rect x="202.48" y="419.26" width="16.52" height="7.69" fill="#e64646"/>
<line x1="72.72" y1="315.80" x2="72.72" y2="426.65" stroke="#999" stroke-width="0.3" opacity="0.35"/>
<line x1="88.94" y1="315.80" x2="88.94" y2="426.65" stroke="#999" stroke-width="0.3" opacity="0.35"/>
<line x1="105.16" y1="315.80" x2="105.16" y2="426.65" stroke="#999" stroke-width="0.3" opacity="0.35"/>
<line x1="121.38" y1="315.80" x2="121.38" y2="426.65" stroke="#999" stroke-width="0.3" opacity="0.35"/>
<line x1="137.60" y1="315.80" x2="137.60" y2="426.65" stroke="#999" stroke-width="0.3" opacity="0.35"/>
<line x1="153.82" y1="315.80" x2="153.82" y2="426.65" stroke="#999" stroke-width="0.3" opacity="0.35"/>
<line x1="170.04" y1="315.80" x2="170.04" y2="426.65" stroke="#999" stroke-width="0.3" opacity="0.35"/>
<line x1="186.26" y1="315.80" x2="186.26" y2="426.65" stroke="#999" stroke-width="0.3" opacity="0.35"/>
<line x1="202.48" y1="315.80" x2="202.48" y2="426.65" stroke="#999" stroke-width="0.3" opacity="0.35"/>
<line x1="56.50" y1="323.19" x2="218.70" y2="323.19" stroke="#999" stroke-width="0.3" opacity="0.35"/>
<line x1="56.50" y1="330.58" x2="218.70" y2="330.58" stroke="#999" stroke-width="0.3" opacity="0.35"/>
<line x1="56.50" y1="337.97" x2="218.70" y2="337.97" stroke="#999" stroke-width="0.3" opacity="0.35"/>
<line x1="56.50" y1="345.36" x2="218.70" y2="345.36" stroke="#999" stroke-width="0.3" opacity="0.35"/>
<line x1="56.50" y1="352.75" x2="218.70" y2="352.75" stroke="#999" stroke-width="0.3" opacity="0.35"/>
<line x1="56.50" y1="360.14" x2="218.70" y2="360.14" stroke="#999" stroke-width="0.3" opacity="0.35"/>
<line x1="56.50" y1="367.53" x2="218.70" y2="367.53" stroke="#999" stroke-width="0.3" opacity="0.35"/>
<line x1="56.50" y1="374.92" x2="218.70" y2="374.92" stroke="#999" stroke-width="0.3" opacity="0.35"/>
<line x1="56.50" y1="382.31" x2="218.70" y2="382.31" stroke="#999" stroke-width="0.3" opacity="0.35"/>
<line x1="56.50" y1="389.70" x2="218.70" y2="389.70" stroke="#999" stroke-width="0.3" opacity="0.35"/>
<line x1="56.50" y1="397.09" x2="218.70" y2="397.09" stroke="#999" stroke-width="0.3" opacity="0.35"/>
<line x1="56.50" y1="404.48" x2="218.70" y2="404.48" stroke="#999" stroke-width="0.3" opacity="0.35"/>
<line x1="56.50" y1="411.87" x2="218.70" y2="411.87" stroke="#999" stroke-width="0.3" opacity="0.35"/>
<line x1="56.50" y1="419.26" x2="218.70" y2="419.26" stroke="#999" stroke-width="0.3" opacity="0.35"/>
<text x="53.80" y="321.66" font-size="6.3" text-anchor="end" fill="#222">ATF4(+)</text>
<text x="53.80" y="329.05" font-size="6.3" text-anchor="end" fill="#222">CREB3L1(+)</text>
<text x="53.80" y="336.44" font-size="6.3" text-anchor="end" fill="#222">HSF1(+)</text>
<text x="53.80" y="343.83" font-size="6.3" text-anchor="end" fill="#222">HMGA1(+)</text>
<text x="53.80" y="351.22" font-size="6.3" text-anchor="end" fill="#222">LIN28B(+)</text>
<text x="53.80" y="358.61" font-size="6.3" text-anchor="end" fill="#222">MAZ(+)</text>
<text x="53.80" y="366.00" font-size="6.3" text-anchor="end" fill="#222">BCLAF1(+)</text>
<text x="53.80" y="373.39" font-size="6.3" text-anchor="end" fill="#222">HDAC2(+)</text>
<text x="53.80" y="380.78" font-size="6.3" text-anchor="end" fill="#222">BRCA1(+)</text>
<text x="53.80" y="388.17" font-size="6.3" text-anchor="end" fill="#222">CTCF(+)</text>
<text x="53.80" y="395.56" font-size="6.3" text-anchor="end" fill="#222">GABPB1(+)</text>
<text x="53.80" y="402.95" font-size="6.3" text-anchor="end" fill="#222">ZBTB7A(+)</text>
<text x="53.80" y="410.34" font-size="6.3" text-anchor="end" fill="#222">YY1(+)</text>
<text x="53.80" y="417.73" font-size="6.3" text-anchor="end" fill="#222">NFIX(+)</text>
<text x="53.80" y="425.12" font-size="6.3" text-anchor="end" fill="#222">FOXO3(+)</text>
<rect x="56.50" y="429.20" width="16.22" height="3.60" fill="#dc7468"/>
<rect x="72.72" y="429.20" width="16.22" height="3.60" fill="#cf9a2c"/>
<rect x="88.94" y="429.20" width="16.22" height="3.60" fill="#a9ab2e"/>
<rect x="105.16" y="429.20" width="16.22" height="3.60" fill="#5bb046"/>
<rect x="121.38" y="429.20" width="16.22" height="3.60" fill="#3cae86"/>
<rect x="137.60" y="429.20" width="16.22" height="3.60" fill="#3ab6bf"/>
<rect x="153.82" y="429.20" width="16.22" height="3.60" fill="#3f9bd2"/>
<rect x="170.04" y="429.20" width="16.22" height="3.60" fill="#7b80c0"/>
<rect x="186.26" y="429.20" width="16.22" height="3.60" fill="#a263ad"/>
<rect x="202.48" y="429.20" width="16.22" height="3.60" fill="#cc64a2"/>
<line x1="56.50" y1="429.20" x2="56.50" y2="432.80" stroke="#3a2a3a" stroke-width="0.7"/>
<line x1="72.72" y1="429.20" x2="72.72" y2="432.80" stroke="#3a2a3a" stroke-width="0.7"/>
<line x1="88.94" y1="429.20" x2="88.94" y2="432.80" stroke="#3a2a3a" stroke-width="0.7"/>
<line x1="105.16" y1="429.20" x2="105.16" y2="432.80" stroke="#3a2a3a" stroke-width="0.7"/>
<line x1="121.38" y1="429.20" x2="121.38" y2="432.80" stroke="#3a2a3a" stroke-width="0.7"/>
<line x1="137.60" y1="429.20" x2="137.60" y2="432.80" stroke="#3a2a3a" stroke-width="0.7"/>
<line x1="153.82" y1="429.20" x2="153.82" y2="432.80" stroke="#3a2a3a" stroke-width="0.7"/>
<line x1="170.04" y1="429.20" x2="170.04" y2="432.80" stroke="#3a2a3a" stroke-width="0.7"/>
<line x1="186.26" y1="429.20" x2="186.26" y2="432.80" stroke="#3a2a3a" stroke-width="0.7"/>
<line x1="202.48" y1="429.20" x2="202.48" y2="432.80" stroke="#3a2a3a" stroke-width="0.7"/>
<line x1="218.70" y1="429.20" x2="218.70" y2="432.80" stroke="#3a2a3a" stroke-width="0.7"/>
<line x1="124.00" y1="436.10" x2="153.20" y2="436.10" stroke="#444" stroke-width="0.9"/>
<line x1="156.60" y1="436.10" x2="185.40" y2="436.10" stroke="#444" stroke-width="0.9"/>
<line x1="188.60" y1="436.10" x2="217.30" y2="436.10" stroke="#444" stroke-width="0.9"/>
<text x="64.90" y="444.70" font-size="6.1" text-anchor="middle" fill="#222">Mid</text>
<text x="81.10" y="444.70" font-size="6.1" text-anchor="middle" fill="#222">Late</text>
<text x="97.40" y="444.70" font-size="6.1" text-anchor="middle" fill="#222">Ter</text>
<text x="113.40" y="444.70" font-size="6.1" text-anchor="middle" fill="#222">Early</text>
<text x="137.90" y="444.70" font-size="6.1" text-anchor="middle" fill="#222">Mid</text>
<text x="170.50" y="444.70" font-size="6.1" text-anchor="middle" fill="#222">Late</text>
<text x="202.60" y="444.70" font-size="6.1" text-anchor="middle" fill="#222">Ter</text>
<defs><linearGradient id="gB" x1="0" y1="0" x2="0" y2="1"><stop offset="0" stop-color="#d92626"/><stop offset="0.25" stop-color="#ef9a9a"/><stop offset="0.5" stop-color="#fafafa"/><stop offset="0.75" stop-color="#9a9ad0"/><stop offset="1" stop-color="#1e1e78"/></linearGradient></defs>
<rect x="225.20" y="371.00" width="3.80" height="55.20" fill="url(#gB)"/>
<text x="233.20" y="379.10" font-size="6.1" fill="#222">2</text>
<text x="233.20" y="390.20" font-size="6.1" fill="#222">1</text>
<text x="233.20" y="401.20" font-size="6.1" fill="#222">0</text>
<text x="232.20" y="412.30" font-size="6.1" fill="#222">−1</text>
<text x="232.20" y="423.70" font-size="6.1" fill="#222">−2</text>
<text x="315.00" y="306.43" font-size="5.9" text-anchor="middle" fill="#231f20">Prim Ery clusters</text>
<text x="394.00" y="306.43" font-size="5.9" text-anchor="middle" fill="#231f20">FL and Def Ery clusters</text>
<rect x="292.20" y="310.60" width="46.10" height="4.00" fill="#d86e62"/>
<rect x="339.60" y="310.60" width="108.20" height="2.10" fill="#72b84a"/>
<rect x="339.60" y="312.60" width="108.20" height="2.00" fill="#7aa0b0"/>
<text x="370.20" y="325.09" font-size="8.4" text-anchor="middle" fill="#222">BCL11A(+)</text>
<text x="370.20" y="396.09" font-size="8.4" text-anchor="middle" fill="#222">SOX6(+)</text>
<line x1="291.80" y1="330.20" x2="291.80" y2="380.60" stroke="#111" stroke-width="1.0"/>
<line x1="289.40" y1="338.50" x2="291.80" y2="338.50" stroke="#222" stroke-width="0.8"/>
<text x="286.40" y="340.67" font-size="6.3" text-anchor="end" fill="#222">0.3</text>
<line x1="289.40" y1="351.80" x2="291.80" y2="351.80" stroke="#222" stroke-width="0.8"/>
<text x="286.40" y="353.97" font-size="6.3" text-anchor="end" fill="#222">0.2</text>
<line x1="289.40" y1="365.10" x2="291.80" y2="365.10" stroke="#222" stroke-width="0.8"/>
<text x="286.40" y="367.27" font-size="6.3" text-anchor="end" fill="#222">0.1</text>
<line x1="289.40" y1="378.30" x2="291.80" y2="378.30" stroke="#222" stroke-width="0.8"/>
<text x="286.40" y="380.47" font-size="6.3" text-anchor="end" fill="#222">0.0</text>
<line x1="291.80" y1="380.20" x2="448.00" y2="380.20" stroke="#111" stroke-width="1.0"/>
<line x1="291.80" y1="401.20" x2="291.80" y2="451.60" stroke="#111" stroke-width="1.0"/>
<line x1="289.40" y1="409.50" x2="291.80" y2="409.50" stroke="#222" stroke-width="0.8"/>
<text x="286.40" y="411.67" font-size="6.3" text-anchor="end" fill="#222">0.3</text>
<line x1="289.40" y1="422.80" x2="291.80" y2="422.80" stroke="#222" stroke-width="0.8"/>
<text x="286.40" y="424.97" font-size="6.3" text-anchor="end" fill="#222">0.2</text>
<line x1="289.40" y1="436.10" x2="291.80" y2="436.10" stroke="#222" stroke-width="0.8"/>
<text x="286.40" y="438.27" font-size="6.3" text-anchor="end" fill="#222">0.1</text>
<line x1="289.40" y1="449.20" x2="291.80" y2="449.20" stroke="#222" stroke-width="0.8"/>
<text x="286.40" y="451.37" font-size="6.3" text-anchor="end" fill="#222">0.0</text>
<line x1="291.80" y1="451.20" x2="448.00" y2="451.20" stroke="#111" stroke-width="1.0"/>
<line x1="301.10" y1="380.20" x2="301.10" y2="382.60" stroke="#222" stroke-width="0.8"/>
<line x1="301.10" y1="451.20" x2="301.10" y2="453.60" stroke="#222" stroke-width="0.8"/>
<line x1="316.50" y1="380.20" x2="316.50" y2="382.60" stroke="#222" stroke-width="0.8"/>
<line x1="316.50" y1="451.20" x2="316.50" y2="453.60" stroke="#222" stroke-width="0.8"/>
<line x1="331.40" y1="380.20" x2="331.40" y2="382.60" stroke="#222" stroke-width="0.8"/>
<line x1="331.40" y1="451.20" x2="331.40" y2="453.60" stroke="#222" stroke-width="0.8"/>
<line x1="346.90" y1="380.20" x2="346.90" y2="382.60" stroke="#222" stroke-width="0.8"/>
<line x1="346.90" y1="451.20" x2="346.90" y2="453.60" stroke="#222" stroke-width="0.8"/>
<line x1="362.50" y1="380.20" x2="362.50" y2="382.60" stroke="#222" stroke-width="0.8"/>
<line x1="362.50" y1="451.20" x2="362.50" y2="453.60" stroke="#222" stroke-width="0.8"/>
<line x1="377.60" y1="380.20" x2="377.60" y2="382.60" stroke="#222" stroke-width="0.8"/>
<line x1="377.60" y1="451.20" x2="377.60" y2="453.60" stroke="#222" stroke-width="0.8"/>
<line x1="393.00" y1="380.20" x2="393.00" y2="382.60" stroke="#222" stroke-width="0.8"/>
<line x1="393.00" y1="451.20" x2="393.00" y2="453.60" stroke="#222" stroke-width="0.8"/>
<line x1="408.30" y1="380.20" x2="408.30" y2="382.60" stroke="#222" stroke-width="0.8"/>
<line x1="408.30" y1="451.20" x2="408.30" y2="453.60" stroke="#222" stroke-width="0.8"/>
<line x1="423.80" y1="380.20" x2="423.80" y2="382.60" stroke="#222" stroke-width="0.8"/>
<line x1="423.80" y1="451.20" x2="423.80" y2="453.60" stroke="#222" stroke-width="0.8"/>
<line x1="439.00" y1="380.20" x2="439.00" y2="382.60" stroke="#222" stroke-width="0.8"/>
<line x1="439.00" y1="451.20" x2="439.00" y2="453.60" stroke="#222" stroke-width="0.8"/>
<text transform="translate(270.6,390.4) rotate(-90)" font-size="6.6" text-anchor="middle" fill="#333" textLength="43" lengthAdjust="spacingAndGlyphs">Expression levels</text>
<line x1="301.10" y1="354.50" x2="301.10" y2="359.80" stroke="#1e1e1e" stroke-width="1.2"/>
<line x1="301.10" y1="373.50" x2="301.10" y2="376.50" stroke="#1e1e1e" stroke-width="1.2"/>
<path d="M301.10,358.30 C301.51,361.74 306.76,364.32 308.00,366.90 C307.86,370.54 304.55,375.00 301.10,375.00 C297.65,375.00 294.34,370.54 294.20,366.90 C295.44,364.32 300.69,361.74 301.10,358.30 Z" fill="#e0736e" stroke="#2e2e2e" stroke-width="0.5"/>
<rect x="299.60" y="364.60" width="3.00" height="4.60" fill="#ffffff"/>
<rect x="300.50" y="366.45" width="1.20" height="0.90" fill="#444"/>
<line x1="316.50" y1="360.60" x2="316.50" y2="364.40" stroke="#1e1e1e" stroke-width="1.2"/>
<path d="M316.50,362.90 C316.91,366.58 322.16,369.34 323.40,372.10 C323.26,374.58 319.95,377.60 316.50,377.60 C313.05,377.60 309.74,374.58 309.60,372.10 C310.84,369.34 316.09,366.58 316.50,362.90 Z" fill="#d8962a" stroke="#2e2e2e" stroke-width="0.5"/>
<rect x="315.00" y="369.80" width="3.00" height="4.00" fill="#ffffff"/>
<rect x="315.90" y="371.35" width="1.20" height="0.90" fill="#444"/>
<line x1="331.40" y1="356.00" x2="331.40" y2="366.10" stroke="#1e1e1e" stroke-width="1.2"/>
<line x1="331.40" y1="374.30" x2="331.40" y2="378.20" stroke="#1e1e1e" stroke-width="1.2"/>
<path d="M331.40,364.60 C331.83,366.80 337.22,368.45 338.50,370.10 C338.36,372.67 334.95,375.80 331.40,375.80 C327.85,375.80 324.44,372.67 324.30,370.10 C325.58,368.45 330.97,366.80 331.40,364.60 Z" fill="#b0a52a" stroke="#2e2e2e" stroke-width="0.5"/>
<rect x="329.90" y="367.80" width="3.00" height="4.20" fill="#ffffff"/>
<rect x="330.80" y="369.45" width="1.20" height="0.90" fill="#444"/>
<line x1="346.90" y1="350.50" x2="346.90" y2="360.30" stroke="#1e1e1e" stroke-width="1.2"/>
<path d="M346.90,358.80 C347.33,362.72 352.72,365.66 354.00,368.60 C353.86,372.52 350.45,377.30 346.90,377.30 C343.35,377.30 339.94,372.52 339.80,368.60 C341.08,365.66 346.47,362.72 346.90,358.80 Z" fill="#5fae3a" stroke="#2e2e2e" stroke-width="0.5"/>
<rect x="345.40" y="364.50" width="3.00" height="7.50" fill="#ffffff"/>
<rect x="346.30" y="367.80" width="1.20" height="0.90" fill="#444"/>
<line x1="362.50" y1="336.20" x2="362.50" y2="341.50" stroke="#1e1e1e" stroke-width="1.2"/>
<path d="M362.50,340.00 C362.91,348.20 368.16,354.35 369.40,360.50 C369.26,367.75 365.95,376.60 362.50,376.60 C359.05,376.60 355.74,367.75 355.60,360.50 C356.84,354.35 362.09,348.20 362.50,340.00 Z" fill="#2aa679" stroke="#2e2e2e" stroke-width="0.5"/>
<rect x="361.00" y="354.00" width="3.00" height="9.50" fill="#ffffff"/>
<rect x="361.90" y="358.30" width="1.20" height="0.90" fill="#444"/>
<line x1="377.60" y1="342.30" x2="377.60" y2="346.50" stroke="#1e1e1e" stroke-width="1.2"/>
<path d="M377.60,345.00 C378.01,351.88 383.26,357.04 384.50,362.20 C384.36,368.81 381.05,376.90 377.60,376.90 C374.15,376.90 370.84,368.81 370.70,362.20 C371.94,357.04 377.19,351.88 377.60,345.00 Z" fill="#25b0b4" stroke="#2e2e2e" stroke-width="0.5"/>
<rect x="376.10" y="357.00" width="3.00" height="9.00" fill="#ffffff"/>
<rect x="377.00" y="361.05" width="1.20" height="0.90" fill="#444"/>
<line x1="393.00" y1="337.10" x2="393.00" y2="341.50" stroke="#1e1e1e" stroke-width="1.2"/>
<line x1="393.00" y1="371.10" x2="393.00" y2="376.00" stroke="#1e1e1e" stroke-width="1.2"/>
<path d="M393.00,340.00 C393.43,345.40 398.90,349.45 400.20,353.50 C400.06,362.10 396.60,372.60 393.00,372.60 C389.40,372.60 385.94,362.10 385.80,353.50 C387.10,349.45 392.57,345.40 393.00,340.00 Z" fill="#2f9bd6" stroke="#2e2e2e" stroke-width="0.5"/>
<rect x="391.50" y="349.00" width="3.00" height="9.00" fill="#ffffff"/>
<rect x="392.40" y="353.05" width="1.20" height="0.90" fill="#444"/>
<line x1="408.30" y1="342.30" x2="408.30" y2="347.50" stroke="#1e1e1e" stroke-width="1.2"/>
<path d="M408.30,346.00 C408.73,353.52 414.12,359.16 415.40,364.80 C415.26,369.84 411.85,376.00 408.30,376.00 C404.75,376.00 401.34,369.84 401.20,364.80 C402.48,359.16 407.87,353.52 408.30,346.00 Z" fill="#8a7fc6" stroke="#2e2e2e" stroke-width="0.5"/>
<rect x="406.80" y="360.00" width="3.00" height="8.00" fill="#ffffff"/>
<rect x="407.70" y="363.55" width="1.20" height="0.90" fill="#444"/>
<line x1="423.80" y1="357.00" x2="423.80" y2="361.50" stroke="#1e1e1e" stroke-width="1.2"/>
<path d="M423.80,360.00 C424.21,364.68 429.46,368.19 430.70,371.70 C430.56,374.44 427.25,377.80 423.80,377.80 C420.35,377.80 417.04,374.44 416.90,371.70 C418.14,368.19 423.39,364.68 423.80,360.00 Z" fill="#a660ae" stroke="#2e2e2e" stroke-width="0.5"/>
<rect x="422.30" y="368.50" width="3.00" height="5.00" fill="#ffffff"/>
<rect x="423.20" y="370.55" width="1.20" height="0.90" fill="#444"/>
<line x1="439.00" y1="354.00" x2="439.00" y2="359.50" stroke="#1e1e1e" stroke-width="1.2"/>
<path d="M439.00,358.00 C439.41,363.12 444.66,366.96 445.90,370.80 C445.76,373.55 442.45,376.90 439.00,376.90 C435.55,376.90 432.24,373.55 432.10,370.80 C433.34,366.96 438.59,363.12 439.00,358.00 Z" fill="#d3609b" stroke="#2e2e2e" stroke-width="0.5"/>
<rect x="437.50" y="367.00" width="3.00" height="5.50" fill="#ffffff"/>
<rect x="438.40" y="369.30" width="1.20" height="0.90" fill="#444"/>
<line x1="301.10" y1="421.00" x2="301.10" y2="425.50" stroke="#1e1e1e" stroke-width="1.2"/>
<path d="M301.10,424.00 C301.51,427.68 306.76,430.44 308.00,433.20 C307.86,437.47 304.55,442.70 301.10,442.70 C297.65,442.70 294.34,437.47 294.20,433.20 C295.44,430.44 300.69,427.68 301.10,424.00 Z" fill="#e0736e" stroke="#2e2e2e" stroke-width="0.5"/>
<rect x="299.60" y="430.00" width="3.00" height="6.50" fill="#ffffff"/>
<rect x="300.50" y="432.80" width="1.20" height="0.90" fill="#444"/>
<line x1="316.50" y1="434.90" x2="316.50" y2="438.50" stroke="#1e1e1e" stroke-width="1.2"/>
<line x1="316.50" y1="443.30" x2="316.50" y2="446.50" stroke="#1e1e1e" stroke-width="1.2"/>
<path d="M316.50,437.00 C316.91,438.44 322.08,439.52 323.30,440.60 C322.28,442.07 318.20,444.59 316.50,444.80 C314.80,444.59 310.72,442.07 309.70,440.60 C310.92,439.52 316.09,438.44 316.50,437.00 Z" fill="#d8962a" stroke="#2e2e2e" stroke-width="0.5"/>
<rect x="315.00" y="439.50" width="3.00" height="2.00" fill="#ffffff"/>
<rect x="315.90" y="440.05" width="1.20" height="0.90" fill="#444"/>
<line x1="331.40" y1="435.40" x2="331.40" y2="439.00" stroke="#1e1e1e" stroke-width="1.2"/>
<line x1="331.40" y1="444.00" x2="331.40" y2="447.00" stroke="#1e1e1e" stroke-width="1.2"/>
<path d="M331.40,437.50 C331.81,439.02 337.06,440.16 338.30,441.30 C337.26,442.77 333.12,445.29 331.40,445.50 C329.67,445.29 325.53,442.77 324.50,441.30 C325.74,440.16 330.99,439.02 331.40,437.50 Z" fill="#b0a52a" stroke="#2e2e2e" stroke-width="0.5"/>
<rect x="329.90" y="440.00" width="3.00" height="2.50" fill="#ffffff"/>
<rect x="330.80" y="440.80" width="1.20" height="0.90" fill="#444"/>
<line x1="346.90" y1="421.60" x2="346.90" y2="426.50" stroke="#1e1e1e" stroke-width="1.2"/>
<path d="M346.90,425.00 C347.33,429.16 352.72,432.28 354.00,435.40 C353.86,439.09 350.45,443.60 346.90,443.60 C343.35,443.60 339.94,439.09 339.80,435.40 C341.08,432.28 346.47,429.16 346.90,425.00 Z" fill="#5fae3a" stroke="#2e2e2e" stroke-width="0.5"/>
<rect x="345.40" y="432.00" width="3.00" height="6.50" fill="#ffffff"/>
<rect x="346.30" y="434.80" width="1.20" height="0.90" fill="#444"/>
<line x1="362.50" y1="414.20" x2="362.50" y2="418.50" stroke="#1e1e1e" stroke-width="1.2"/>
<path d="M362.50,417.00 C362.91,422.08 368.16,425.89 369.40,429.70 C369.26,434.92 365.95,441.30 362.50,441.30 C359.05,441.30 355.74,434.92 355.60,429.70 C356.84,425.89 362.09,422.08 362.50,417.00 Z" fill="#2aa679" stroke="#2e2e2e" stroke-width="0.5"/>
<rect x="361.00" y="425.50" width="3.00" height="8.00" fill="#ffffff"/>
<rect x="361.90" y="429.05" width="1.20" height="0.90" fill="#444"/>
<line x1="377.60" y1="410.70" x2="377.60" y2="415.50" stroke="#1e1e1e" stroke-width="1.2"/>
<line x1="377.60" y1="435.50" x2="377.60" y2="439.30" stroke="#1e1e1e" stroke-width="1.2"/>
<path d="M377.60,414.00 C378.00,418.20 383.09,421.35 384.30,424.50 C384.17,430.12 380.95,437.00 377.60,437.00 C374.25,437.00 371.03,430.12 370.90,424.50 C372.11,421.35 377.20,418.20 377.60,414.00 Z" fill="#25b0b4" stroke="#2e2e2e" stroke-width="0.5"/>
<rect x="376.10" y="420.50" width="3.00" height="7.50" fill="#ffffff"/>
<rect x="377.00" y="423.80" width="1.20" height="0.90" fill="#444"/>
<line x1="393.00" y1="408.10" x2="393.00" y2="412.50" stroke="#1e1e1e" stroke-width="1.2"/>
<line x1="393.00" y1="432.00" x2="393.00" y2="437.50" stroke="#1e1e1e" stroke-width="1.2"/>
<path d="M393.00,411.00 C393.43,414.68 398.90,417.44 400.20,420.20 C400.06,426.19 396.60,433.50 393.00,433.50 C389.40,433.50 385.94,426.19 385.80,420.20 C387.10,417.44 392.57,414.68 393.00,411.00 Z" fill="#2f9bd6" stroke="#2e2e2e" stroke-width="0.5"/>
<rect x="391.50" y="416.50" width="3.00" height="7.50" fill="#ffffff"/>
<rect x="392.40" y="419.80" width="1.20" height="0.90" fill="#444"/>
<line x1="408.30" y1="417.60" x2="408.30" y2="421.50" stroke="#1e1e1e" stroke-width="1.2"/>
<path d="M408.30,420.00 C408.75,424.60 414.45,428.05 415.80,431.50 C415.65,437.31 412.05,444.40 408.30,444.40 C404.55,444.40 400.95,437.31 400.80,431.50 C402.15,428.05 407.85,424.60 408.30,420.00 Z" fill="#8a7fc6" stroke="#2e2e2e" stroke-width="0.5"/>
<rect x="406.80" y="428.00" width="3.00" height="7.00" fill="#ffffff"/>
<rect x="407.70" y="431.05" width="1.20" height="0.90" fill="#444"/>
<line x1="423.80" y1="428.50" x2="423.80" y2="432.50" stroke="#1e1e1e" stroke-width="1.2"/>
<path d="M423.80,431.00 C424.21,433.96 429.46,436.18 430.70,438.40 C430.56,441.50 427.25,445.30 423.80,445.30 C420.35,445.30 417.04,441.50 416.90,438.40 C418.14,436.18 423.39,433.96 423.80,431.00 Z" fill="#a660ae" stroke="#2e2e2e" stroke-width="0.5"/>
<rect x="422.30" y="436.00" width="3.00" height="4.50" fill="#ffffff"/>
<rect x="423.20" y="437.80" width="1.20" height="0.90" fill="#444"/>
<line x1="439.00" y1="426.30" x2="439.00" y2="429.50" stroke="#1e1e1e" stroke-width="1.2"/>
<path d="M439.00,428.00 C439.43,430.08 444.82,431.64 446.10,433.20 C445.96,438.24 442.55,444.40 439.00,444.40 C435.45,444.40 432.04,438.24 431.90,433.20 C433.18,431.64 438.57,430.08 439.00,428.00 Z" fill="#d3609b" stroke="#2e2e2e" stroke-width="0.5"/>
<rect x="437.50" y="430.50" width="3.00" height="5.50" fill="#ffffff"/>
<rect x="438.40" y="432.80" width="1.20" height="0.90" fill="#444"/>
<line x1="361.30" y1="457.50" x2="378.00" y2="457.50" stroke="#222" stroke-width="0.9"/>
<line x1="392.50" y1="457.50" x2="408.70" y2="457.50" stroke="#222" stroke-width="0.9"/>
<line x1="423.60" y1="457.50" x2="440.00" y2="457.50" stroke="#222" stroke-width="0.9"/>
<text x="301.50" y="465.30" font-size="6.1" text-anchor="middle" fill="#222">Mid</text>
<text x="316.50" y="465.30" font-size="6.1" text-anchor="middle" fill="#222">Late</text>
<text x="331.60" y="465.30" font-size="6.1" text-anchor="middle" fill="#222">Ter</text>
<text x="347.00" y="465.30" font-size="6.1" text-anchor="middle" fill="#222">Early</text>
<text x="369.90" y="465.30" font-size="6.1" text-anchor="middle" fill="#222">Mid</text>
<text x="400.60" y="465.30" font-size="6.1" text-anchor="middle" fill="#222">Late</text>
<text x="431.40" y="465.30" font-size="6.1" text-anchor="middle" fill="#222">Ter</text>
<text x="137.50" y="468.49" font-size="8.4" text-anchor="middle" fill="#222">BCL11A(+)</text>
<text x="137.50" y="528.49" font-size="8.4" text-anchor="middle" fill="#222">SOX6(+)</text>
<text x="137.50" y="588.09" font-size="8.4" text-anchor="middle" fill="#222">KLF1(+)</text>
<line x1="57.00" y1="473.00" x2="57.00" y2="511.60" stroke="#111" stroke-width="1.0"/>
<line x1="54.60" y1="479.50" x2="57.00" y2="479.50" stroke="#222" stroke-width="0.8"/>
<text x="51.60" y="481.63" font-size="6.2" text-anchor="end" fill="#222">0.3</text>
<line x1="54.60" y1="489.50" x2="57.00" y2="489.50" stroke="#222" stroke-width="0.8"/>
<text x="51.60" y="491.63" font-size="6.2" text-anchor="end" fill="#222">0.2</text>
<line x1="54.60" y1="499.50" x2="57.00" y2="499.50" stroke="#222" stroke-width="0.8"/>
<text x="51.60" y="501.63" font-size="6.2" text-anchor="end" fill="#222">0.1</text>
<line x1="54.60" y1="509.30" x2="57.00" y2="509.30" stroke="#222" stroke-width="0.8"/>
<text x="51.60" y="511.43" font-size="6.2" text-anchor="end" fill="#222">0.0</text>
<line x1="57.00" y1="511.20" x2="219.00" y2="511.20" stroke="#111" stroke-width="1.0"/>
<line x1="70.60" y1="511.20" x2="70.60" y2="513.60" stroke="#222" stroke-width="0.8"/>
<line x1="92.70" y1="511.20" x2="92.70" y2="513.60" stroke="#222" stroke-width="0.8"/>
<line x1="115.20" y1="511.20" x2="115.20" y2="513.60" stroke="#222" stroke-width="0.8"/>
<line x1="137.50" y1="511.20" x2="137.50" y2="513.60" stroke="#222" stroke-width="0.8"/>
<line x1="160.50" y1="511.20" x2="160.50" y2="513.60" stroke="#222" stroke-width="0.8"/>
<line x1="182.40" y1="511.20" x2="182.40" y2="513.60" stroke="#222" stroke-width="0.8"/>
<line x1="204.90" y1="511.20" x2="204.90" y2="513.60" stroke="#222" stroke-width="0.8"/>
<line x1="57.00" y1="533.00" x2="57.00" y2="571.20" stroke="#111" stroke-width="1.0"/>
<line x1="54.60" y1="539.25" x2="57.00" y2="539.25" stroke="#222" stroke-width="0.8"/>
<text x="51.60" y="541.38" font-size="6.2" text-anchor="end" fill="#222">0.3</text>
<line x1="54.60" y1="549.25" x2="57.00" y2="549.25" stroke="#222" stroke-width="0.8"/>
<text x="51.60" y="551.38" font-size="6.2" text-anchor="end" fill="#222">0.2</text>
<line x1="54.60" y1="559.25" x2="57.00" y2="559.25" stroke="#222" stroke-width="0.8"/>
<text x="51.60" y="561.38" font-size="6.2" text-anchor="end" fill="#222">0.1</text>
<line x1="54.60" y1="569.25" x2="57.00" y2="569.25" stroke="#222" stroke-width="0.8"/>
<text x="51.60" y="571.38" font-size="6.2" text-anchor="end" fill="#222">0.0</text>
<line x1="57.00" y1="570.80" x2="219.00" y2="570.80" stroke="#111" stroke-width="1.0"/>
<line x1="70.60" y1="570.80" x2="70.60" y2="573.20" stroke="#222" stroke-width="0.8"/>
<line x1="92.70" y1="570.80" x2="92.70" y2="573.20" stroke="#222" stroke-width="0.8"/>
<line x1="115.20" y1="570.80" x2="115.20" y2="573.20" stroke="#222" stroke-width="0.8"/>
<line x1="137.50" y1="570.80" x2="137.50" y2="573.20" stroke="#222" stroke-width="0.8"/>
<line x1="160.50" y1="570.80" x2="160.50" y2="573.20" stroke="#222" stroke-width="0.8"/>
<line x1="182.40" y1="570.80" x2="182.40" y2="573.20" stroke="#222" stroke-width="0.8"/>
<line x1="204.90" y1="570.80" x2="204.90" y2="573.20" stroke="#222" stroke-width="0.8"/>
<line x1="57.00" y1="591.00" x2="57.00" y2="630.90" stroke="#111" stroke-width="1.0"/>
<line x1="54.60" y1="593.75" x2="57.00" y2="593.75" stroke="#222" stroke-width="0.8"/>
<text x="51.60" y="595.88" font-size="6.2" text-anchor="end" fill="#222">0.20</text>
<line x1="54.60" y1="605.50" x2="57.00" y2="605.50" stroke="#222" stroke-width="0.8"/>
<text x="51.60" y="607.63" font-size="6.2" text-anchor="end" fill="#222">0.15</text>
<line x1="54.60" y1="617.00" x2="57.00" y2="617.00" stroke="#222" stroke-width="0.8"/>
<text x="51.60" y="619.13" font-size="6.2" text-anchor="end" fill="#222">0.10</text>
<line x1="54.60" y1="628.75" x2="57.00" y2="628.75" stroke="#222" stroke-width="0.8"/>
<text x="51.60" y="630.88" font-size="6.2" text-anchor="end" fill="#222">0.05</text>
<line x1="57.00" y1="630.50" x2="219.00" y2="630.50" stroke="#111" stroke-width="1.0"/>
<line x1="70.60" y1="630.50" x2="70.60" y2="632.90" stroke="#222" stroke-width="0.8"/>
<line x1="92.70" y1="630.50" x2="92.70" y2="632.90" stroke="#222" stroke-width="0.8"/>
<line x1="115.20" y1="630.50" x2="115.20" y2="632.90" stroke="#222" stroke-width="0.8"/>
<line x1="137.50" y1="630.50" x2="137.50" y2="632.90" stroke="#222" stroke-width="0.8"/>
<line x1="160.50" y1="630.50" x2="160.50" y2="632.90" stroke="#222" stroke-width="0.8"/>
<line x1="182.40" y1="630.50" x2="182.40" y2="632.90" stroke="#222" stroke-width="0.8"/>
<line x1="204.90" y1="630.50" x2="204.90" y2="632.90" stroke="#222" stroke-width="0.8"/>
<text transform="translate(35.8,551.5) rotate(-90)" font-size="6.6" text-anchor="middle" fill="#333" textLength="43" lengthAdjust="spacingAndGlyphs">Expression levels</text>
<path d="M70.60,496.30 C69.56,500.25 62.28,502.46 60.20,504.20 C62.28,505.54 68.73,508.14 70.60,509.00 Z" fill="#6cbc3c" stroke="#3c4a30" stroke-width="0.45"/>
<path d="M70.60,489.40 C71.64,495.75 78.92,499.31 81.00,502.10 C78.92,503.92 72.47,507.43 70.60,508.60 Z" fill="#8b9ee0" stroke="#3c3f5a" stroke-width="0.45"/>
<line x1="70.60" y1="489.40" x2="70.60" y2="509.00" stroke="#3a3a3a" stroke-width="0.6"/>
<path d="M92.70,493.60 C91.72,497.05 84.86,498.98 82.90,500.50 C84.86,502.66 90.94,506.81 92.70,508.20 Z" fill="#6cbc3c" stroke="#3c4a30" stroke-width="0.45"/>
<path d="M92.70,478.60 C93.74,486.00 101.02,490.14 103.10,493.40 C101.02,497.26 94.57,504.72 92.70,507.20 Z" fill="#8b9ee0" stroke="#3c3f5a" stroke-width="0.45"/>
<line x1="92.70" y1="478.60" x2="92.70" y2="508.20" stroke="#3a3a3a" stroke-width="0.6"/>
<path d="M115.20,492.30 C114.21,496.85 107.28,499.40 105.30,501.40 C107.28,503.02 113.42,506.16 115.20,507.20 Z" fill="#6cbc3c" stroke="#3c4a30" stroke-width="0.45"/>
<path d="M115.20,482.70 C116.23,489.40 123.44,493.15 125.50,496.10 C123.44,498.45 117.05,502.99 115.20,504.50 Z" fill="#8b9ee0" stroke="#3c3f5a" stroke-width="0.45"/>
<line x1="115.20" y1="482.70" x2="115.20" y2="507.20" stroke="#3a3a3a" stroke-width="0.6"/>
<path d="M137.50,488.00 C136.54,491.60 129.82,493.62 127.90,495.20 C129.82,498.03 135.77,503.48 137.50,505.30 Z" fill="#6cbc3c" stroke="#3c4a30" stroke-width="0.45"/>
<path d="M137.50,478.30 C138.53,484.55 145.74,488.05 147.80,490.80 C145.74,493.91 139.35,499.90 137.50,501.90 Z" fill="#8b9ee0" stroke="#3c3f5a" stroke-width="0.45"/>
<line x1="137.50" y1="478.30" x2="137.50" y2="505.30" stroke="#3a3a3a" stroke-width="0.6"/>
<line x1="160.50" y1="482.70" x2="160.50" y2="491.00" stroke="#666" stroke-width="0.7"/>
<path d="M160.50,490.80 C159.46,494.85 152.18,497.12 150.10,498.90 C152.18,501.34 158.63,506.03 160.50,507.60 Z" fill="#6cbc3c" stroke="#3c4a30" stroke-width="0.45"/>
<path d="M160.50,490.20 C161.48,494.55 168.34,496.99 170.30,498.90 C168.34,501.34 162.26,506.03 160.50,507.60 Z" fill="#8b9ee0" stroke="#3c3f5a" stroke-width="0.45"/>
<line x1="160.50" y1="490.20" x2="160.50" y2="507.60" stroke="#3a3a3a" stroke-width="0.6"/>
<path d="M182.40,500.20 C181.35,502.90 174.00,504.41 171.90,505.60 C174.00,506.64 180.51,508.63 182.40,509.30 Z" fill="#6cbc3c" stroke="#3c4a30" stroke-width="0.45"/>
<path d="M182.40,495.50 C183.37,499.55 190.16,501.82 192.10,503.60 C190.16,505.20 184.15,508.27 182.40,509.30 Z" fill="#8b9ee0" stroke="#3c3f5a" stroke-width="0.45"/>
<line x1="182.40" y1="495.50" x2="182.40" y2="509.30" stroke="#3a3a3a" stroke-width="0.6"/>
<path d="M204.90,500.20 C203.82,503.25 196.26,504.96 194.10,506.30 C196.26,506.92 202.96,508.10 204.90,508.50 Z" fill="#6cbc3c" stroke="#3c4a30" stroke-width="0.45"/>
<path d="M204.90,491.50 C205.88,497.90 212.74,501.48 214.70,504.30 C212.74,505.48 206.66,507.74 204.90,508.50 Z" fill="#8b9ee0" stroke="#3c3f5a" stroke-width="0.45"/>
<line x1="204.90" y1="491.50" x2="204.90" y2="508.50" stroke="#3a3a3a" stroke-width="0.6"/>
<circle cx="68.00" cy="482.20" r="1.55" fill="#3a3a3a"/>
<circle cx="87.50" cy="482.20" r="1.55" fill="#3a3a3a"/>
<circle cx="110.40" cy="482.20" r="1.55" fill="#3a3a3a"/>
<circle cx="132.60" cy="482.20" r="1.55" fill="#3a3a3a"/>
<circle cx="180.70" cy="482.20" r="1.55" fill="#3a3a3a"/>
<text x="203.20" y="484.61" font-size="7.0" text-anchor="middle" fill="#333">§</text>
<path d="M70.60,551.60 C69.56,555.05 62.28,556.98 60.20,558.50 C62.28,560.21 68.73,563.50 70.60,564.60 Z" fill="#6cbc3c" stroke="#3c4a30" stroke-width="0.45"/>
<path d="M70.60,548.20 C71.64,552.50 78.92,554.91 81.00,556.80 C78.92,558.98 72.47,563.20 70.60,564.60 Z" fill="#8b9ee0" stroke="#3c3f5a" stroke-width="0.45"/>
<line x1="70.60" y1="548.20" x2="70.60" y2="564.60" stroke="#3a3a3a" stroke-width="0.6"/>
<path d="M92.70,549.90 C91.70,552.95 84.70,554.66 82.70,556.00 C84.70,557.93 90.90,561.66 92.70,562.90 Z" fill="#6cbc3c" stroke="#3c4a30" stroke-width="0.45"/>
<path d="M92.70,543.80 C93.74,548.15 101.02,550.59 103.10,552.50 C101.02,555.16 94.57,560.29 92.70,562.00 Z" fill="#8b9ee0" stroke="#3c3f5a" stroke-width="0.45"/>
<line x1="92.70" y1="543.80" x2="92.70" y2="562.90" stroke="#3a3a3a" stroke-width="0.6"/>
<path d="M115.20,547.30 C114.20,549.45 107.20,550.65 105.20,551.60 C107.20,553.31 113.40,556.60 115.20,557.70 Z" fill="#6cbc3c" stroke="#3c4a30" stroke-width="0.45"/>
<path d="M115.20,540.40 C116.27,544.30 123.76,546.48 125.90,548.20 C123.76,551.08 117.13,556.65 115.20,558.50 Z" fill="#8b9ee0" stroke="#3c3f5a" stroke-width="0.45"/>
<line x1="115.20" y1="540.40" x2="115.20" y2="558.50" stroke="#3a3a3a" stroke-width="0.6"/>
<path d="M137.50,544.70 C136.46,547.30 129.18,548.76 127.10,549.90 C129.18,552.31 135.63,556.95 137.50,558.50 Z" fill="#6cbc3c" stroke="#3c4a30" stroke-width="0.45"/>
<path d="M137.50,539.50 C138.54,542.95 145.82,544.88 147.90,546.40 C145.82,548.81 139.37,553.45 137.50,555.00 Z" fill="#8b9ee0" stroke="#3c3f5a" stroke-width="0.45"/>
<line x1="137.50" y1="539.50" x2="137.50" y2="558.50" stroke="#3a3a3a" stroke-width="0.6"/>
<path d="M160.50,549.00 C159.46,551.60 152.18,553.06 150.10,554.20 C152.18,556.86 158.63,561.99 160.50,563.70 Z" fill="#6cbc3c" stroke="#3c4a30" stroke-width="0.45"/>
<path d="M160.50,546.40 C161.50,551.60 168.50,554.51 170.50,556.80 C168.50,558.73 162.30,562.46 160.50,563.70 Z" fill="#8b9ee0" stroke="#3c3f5a" stroke-width="0.45"/>
<line x1="160.50" y1="546.40" x2="160.50" y2="563.70" stroke="#3a3a3a" stroke-width="0.6"/>
<path d="M182.40,557.70 C181.36,559.85 174.08,561.05 172.00,562.00 C174.08,563.20 180.53,565.53 182.40,566.30 Z" fill="#6cbc3c" stroke="#3c4a30" stroke-width="0.45"/>
<path d="M182.40,554.20 C183.40,557.65 190.40,559.58 192.40,561.10 C190.40,562.56 184.20,565.36 182.40,566.30 Z" fill="#8b9ee0" stroke="#3c3f5a" stroke-width="0.45"/>
<line x1="182.40" y1="554.20" x2="182.40" y2="566.30" stroke="#3a3a3a" stroke-width="0.6"/>
<path d="M204.90,556.00 C203.86,558.15 196.58,559.35 194.50,560.30 C196.58,561.76 203.03,564.56 204.90,565.50 Z" fill="#6cbc3c" stroke="#3c4a30" stroke-width="0.45"/>
<path d="M204.90,551.60 C205.90,553.80 212.90,555.03 214.90,556.00 C212.90,558.41 206.70,563.05 204.90,564.60 Z" fill="#8b9ee0" stroke="#3c3f5a" stroke-width="0.45"/>
<line x1="204.90" y1="551.60" x2="204.90" y2="565.50" stroke="#3a3a3a" stroke-width="0.6"/>
<circle cx="87.50" cy="538.70" r="1.55" fill="#3a3a3a"/>
<circle cx="110.20" cy="538.70" r="1.55" fill="#3a3a3a"/>
<text x="132.80" y="541.11" font-size="7.0" text-anchor="middle" fill="#333">§</text>
<circle cx="203.70" cy="538.70" r="1.55" fill="#3a3a3a"/>
<path d="M70.60,614.90 C69.56,616.20 62.28,616.93 60.20,617.50 C62.28,618.23 68.73,619.63 70.60,620.10 Z" fill="#6cbc3c" stroke="#3c4a30" stroke-width="0.45"/>
<path d="M70.60,615.40 C71.55,616.60 78.20,617.27 80.10,617.80 C78.20,618.42 72.31,619.60 70.60,620.00 Z" fill="#8b9ee0" stroke="#3c3f5a" stroke-width="0.45"/>
<line x1="70.60" y1="614.90" x2="70.60" y2="620.10" stroke="#3a3a3a" stroke-width="0.6"/>
<line x1="92.70" y1="612.00" x2="92.70" y2="626.00" stroke="#666" stroke-width="0.7"/>
<path d="M92.70,612.60 C91.70,614.35 84.70,615.33 82.70,616.10 C84.70,616.74 90.90,617.99 92.70,618.40 Z" fill="#6cbc3c" stroke="#3c4a30" stroke-width="0.45"/>
<path d="M92.70,614.40 C93.69,615.25 100.62,615.73 102.60,616.10 C100.62,616.58 94.48,617.49 92.70,617.80 Z" fill="#8b9ee0" stroke="#3c3f5a" stroke-width="0.45"/>
<line x1="92.70" y1="612.60" x2="92.70" y2="618.40" stroke="#3a3a3a" stroke-width="0.6"/>
<line x1="115.20" y1="611.00" x2="115.20" y2="622.70" stroke="#666" stroke-width="0.7"/>
<path d="M115.20,612.00 C114.20,613.25 107.20,613.95 105.20,614.50 C107.20,615.09 113.40,616.22 115.20,616.60 Z" fill="#6cbc3c" stroke="#3c4a30" stroke-width="0.45"/>
<path d="M115.20,613.20 C116.20,614.05 123.20,614.53 125.20,614.90 C123.20,615.38 117.00,616.29 115.20,616.60 Z" fill="#8b9ee0" stroke="#3c3f5a" stroke-width="0.45"/>
<line x1="115.20" y1="612.00" x2="115.20" y2="616.60" stroke="#3a3a3a" stroke-width="0.6"/>
<line x1="137.50" y1="611.00" x2="137.50" y2="627.00" stroke="#666" stroke-width="0.7"/>
<path d="M137.50,611.60 C136.50,612.90 129.50,613.63 127.50,614.20 C129.50,614.93 135.70,616.33 137.50,616.80 Z" fill="#6cbc3c" stroke="#3c4a30" stroke-width="0.45"/>
<path d="M137.50,612.30 C138.50,613.35 145.50,613.94 147.50,614.40 C145.50,614.88 139.30,615.79 137.50,616.10 Z" fill="#8b9ee0" stroke="#3c3f5a" stroke-width="0.45"/>
<line x1="137.50" y1="611.60" x2="137.50" y2="616.80" stroke="#3a3a3a" stroke-width="0.6"/>
<line x1="160.50" y1="609.00" x2="160.50" y2="627.20" stroke="#666" stroke-width="0.7"/>
<path d="M160.50,611.60 C159.46,613.30 152.18,614.25 150.10,615.00 C152.18,615.64 158.63,616.89 160.50,617.30 Z" fill="#6cbc3c" stroke="#3c4a30" stroke-width="0.45"/>
<path d="M160.50,610.00 C161.49,611.25 168.42,611.95 170.40,612.50 C168.42,613.48 162.28,615.37 160.50,616.00 Z" fill="#8b9ee0" stroke="#3c3f5a" stroke-width="0.45"/>
<line x1="160.50" y1="610.00" x2="160.50" y2="617.30" stroke="#3a3a3a" stroke-width="0.6"/>
<line x1="182.40" y1="608.00" x2="182.40" y2="628.00" stroke="#666" stroke-width="0.7"/>
<path d="M182.40,609.00 C181.36,610.75 174.08,611.73 172.00,612.50 C174.08,613.96 180.53,616.76 182.40,617.70 Z" fill="#6cbc3c" stroke="#3c4a30" stroke-width="0.45"/>
<path d="M182.40,608.70 C183.40,609.85 190.40,610.49 192.40,611.00 C190.40,612.68 184.20,615.92 182.40,617.00 Z" fill="#8b9ee0" stroke="#3c3f5a" stroke-width="0.45"/>
<line x1="182.40" y1="608.70" x2="182.40" y2="617.70" stroke="#3a3a3a" stroke-width="0.6"/>
<line x1="204.90" y1="609.00" x2="204.90" y2="628.00" stroke="#666" stroke-width="0.7"/>
<path d="M204.90,609.00 C203.86,611.20 196.58,612.43 194.50,613.40 C196.58,614.60 203.03,616.93 204.90,617.70 Z" fill="#6cbc3c" stroke="#3c4a30" stroke-width="0.45"/>
<path d="M204.90,609.40 C205.90,610.95 212.90,611.82 214.90,612.50 C212.90,613.90 206.70,616.60 204.90,617.50 Z" fill="#8b9ee0" stroke="#3c3f5a" stroke-width="0.45"/>
<line x1="204.90" y1="609.00" x2="204.90" y2="617.70" stroke="#3a3a3a" stroke-width="0.6"/>
<circle cx="160.50" cy="603.00" r="1.55" fill="#3a3a3a"/>
<rect x="60.50" y="593.00" width="5.20" height="5.60" fill="#6cbc3c"/>
<text x="68.80" y="598.20" font-size="6.1" fill="#222">Definitive</text>
<rect x="60.50" y="603.20" width="5.20" height="5.60" fill="#8b9ee0"/>
<text x="68.80" y="608.20" font-size="6.1" fill="#222">FL</text>
<line x1="93.80" y1="636.50" x2="110.40" y2="636.50" stroke="#222" stroke-width="0.9"/>
<line x1="138.00" y1="636.50" x2="155.30" y2="636.50" stroke="#222" stroke-width="0.9"/>
<line x1="185.80" y1="636.50" x2="202.00" y2="636.50" stroke="#222" stroke-width="0.9"/>
<text x="70.60" y="641.90" font-size="6.1" text-anchor="middle" fill="#222">Early</text>
<text x="101.90" y="645.20" font-size="6.1" text-anchor="middle" fill="#222">Mid</text>
<text x="146.70" y="645.20" font-size="6.1" text-anchor="middle" fill="#222">Late</text>
<text x="193.60" y="645.20" font-size="6.1" text-anchor="middle" fill="#222">Ter</text>
<rect x="382.10" y="482.40" width="5.20" height="5.20" fill="#d5706e"/>
<text x="390.20" y="487.26" font-size="6.0" fill="#222">Primitive</text>
<rect x="419.90" y="482.40" width="5.20" height="5.20" fill="#64b23c"/>
<text x="427.80" y="487.26" font-size="6.0" fill="#222">Definitive</text>
<rect x="457.30" y="482.40" width="5.20" height="5.20" fill="#7083c8"/>
<text x="465.20" y="487.26" font-size="6.0" fill="#222">Fetal Liver</text>
<text x="355.60" y="500.18" font-size="6.05" text-anchor="end" fill="#222">E2F_TARGETS</text>
<line x1="356.60" y1="498.20" x2="361.70" y2="498.20" stroke="#222" stroke-width="0.8"/>
<rect x="370.72" y="494.20" width="64.98" height="2.50" fill="#cf6f6c"/>
<rect x="435.70" y="497.25" width="51.88" height="2.50" fill="#66b03c"/>
<rect x="435.70" y="499.90" width="58.73" height="2.50" fill="#6f84c8"/>
<text x="355.60" y="510.96" font-size="6.05" text-anchor="end" fill="#222">G2M_CHECKPOINT</text>
<line x1="356.60" y1="508.98" x2="361.70" y2="508.98" stroke="#222" stroke-width="0.8"/>
<rect x="380.64" y="504.98" width="55.06" height="2.50" fill="#cf6f6c"/>
<rect x="435.70" y="508.03" width="49.95" height="2.50" fill="#66b03c"/>
<rect x="435.70" y="510.68" width="49.95" height="2.50" fill="#6f84c8"/>
<text x="355.60" y="521.74" font-size="6.05" text-anchor="end" fill="#222">MYC_TARGETS_V1</text>
<line x1="356.60" y1="519.76" x2="361.70" y2="519.76" stroke="#222" stroke-width="0.8"/>
<rect x="401.97" y="515.76" width="33.73" height="2.50" fill="#cf6f6c"/>
<rect x="435.70" y="518.81" width="40.03" height="2.50" fill="#66b03c"/>
<rect x="435.70" y="521.46" width="37.99" height="2.50" fill="#6f84c8"/>
<text x="355.60" y="532.52" font-size="6.05" text-anchor="end" fill="#222">MYC_TARGETS_V2</text>
<line x1="356.60" y1="530.54" x2="361.70" y2="530.54" stroke="#222" stroke-width="0.8"/>
<rect x="409.91" y="526.54" width="25.79" height="2.50" fill="#cf6f6c"/>
<rect x="435.70" y="529.59" width="27.92" height="2.50" fill="#66b03c"/>
<rect x="435.70" y="532.24" width="24.01" height="2.50" fill="#6f84c8"/>
<text x="355.60" y="543.30" font-size="6.05" text-anchor="end" fill="#222">MTORC1_SIGNALING</text>
<line x1="356.60" y1="541.32" x2="361.70" y2="541.32" stroke="#222" stroke-width="0.8"/>
<rect x="412.88" y="537.32" width="22.82" height="2.50" fill="#cf6f6c"/>
<rect x="435.70" y="540.37" width="30.01" height="2.50" fill="#66b03c"/>
<rect x="435.70" y="543.02" width="24.01" height="2.50" fill="#6f84c8"/>
<text x="355.60" y="554.08" font-size="6.05" text-anchor="end" fill="#222">UNFOLDED_PROTEIN_RESPONSE</text>
<line x1="356.60" y1="552.10" x2="361.70" y2="552.10" stroke="#222" stroke-width="0.8"/>
<rect x="416.36" y="548.10" width="19.34" height="2.50" fill="#cf6f6c"/>
<rect x="435.70" y="551.15" width="18.50" height="2.50" fill="#66b03c"/>
<rect x="435.70" y="553.80" width="20.29" height="2.50" fill="#6f84c8"/>
<text x="355.60" y="564.86" font-size="6.05" text-anchor="end" fill="#222">FATTY_ACID_METABOLISM</text>
<line x1="356.60" y1="562.88" x2="361.70" y2="562.88" stroke="#222" stroke-width="0.8"/>
<rect x="422.46" y="558.88" width="13.24" height="2.50" fill="#cf6f6c"/>
<rect x="435.70" y="561.93" width="16.81" height="2.50" fill="#66b03c"/>
<rect x="435.70" y="564.58" width="15.87" height="2.50" fill="#6f84c8"/>
<text x="355.60" y="575.64" font-size="6.05" text-anchor="end" fill="#222">PEROXISOME</text>
<line x1="356.60" y1="573.66" x2="361.70" y2="573.66" stroke="#222" stroke-width="0.8"/>
<rect x="420.62" y="569.66" width="15.08" height="2.50" fill="#cf6f6c"/>
<rect x="435.70" y="572.71" width="15.13" height="2.50" fill="#66b03c"/>
<rect x="435.70" y="575.36" width="15.13" height="2.50" fill="#6f84c8"/>
<text x="355.60" y="586.42" font-size="6.05" text-anchor="end" fill="#222">GLYCOLYSIS</text>
<line x1="356.60" y1="584.44" x2="361.70" y2="584.44" stroke="#222" stroke-width="0.8"/>
<rect x="424.29" y="580.44" width="11.41" height="2.50" fill="#cf6f6c"/>
<rect x="435.70" y="583.49" width="15.13" height="2.50" fill="#66b03c"/>
<rect x="435.70" y="586.14" width="11.61" height="2.50" fill="#6f84c8"/>
<text x="355.60" y="597.20" font-size="6.05" text-anchor="end" fill="#222">OXIDATIVE_PHOSPHORYLATION</text>
<line x1="356.60" y1="595.22" x2="361.70" y2="595.22" stroke="#222" stroke-width="0.8"/>
<rect x="435.70" y="591.22" width="19.84" height="2.50" fill="#cf6f6c"/>
<rect x="435.70" y="594.27" width="32.19" height="2.50" fill="#66b03c"/>
<rect x="435.70" y="596.92" width="19.05" height="2.50" fill="#6f84c8"/>
<text x="355.60" y="607.98" font-size="6.05" text-anchor="end" fill="#222">TGF_BETA_SIGNALING</text>
<line x1="356.60" y1="606.00" x2="361.70" y2="606.00" stroke="#222" stroke-width="0.8"/>
<rect x="435.70" y="602.00" width="10.91" height="2.50" fill="#cf6f6c"/>
<rect x="427.17" y="605.05" width="8.53" height="2.50" fill="#66b03c"/>
<rect x="425.48" y="607.70" width="10.22" height="2.50" fill="#6f84c8"/>
<text x="355.60" y="618.76" font-size="6.05" text-anchor="end" fill="#222">COAGULATION</text>
<line x1="356.60" y1="616.78" x2="361.70" y2="616.78" stroke="#222" stroke-width="0.8"/>
<rect x="435.70" y="612.78" width="10.91" height="2.50" fill="#cf6f6c"/>
<rect x="427.17" y="615.83" width="8.53" height="2.50" fill="#66b03c"/>
<rect x="422.80" y="618.48" width="12.90" height="2.50" fill="#6f84c8"/>
<line x1="361.70" y1="489.50" x2="361.70" y2="623.20" stroke="#111" stroke-width="1.0"/>
<line x1="435.70" y1="491.80" x2="435.70" y2="623.00" stroke="#222" stroke-width="1.0"/>
<line x1="361.20" y1="622.80" x2="512.60" y2="622.80" stroke="#111" stroke-width="1.0"/>
<line x1="361.30" y1="622.80" x2="361.30" y2="625.40" stroke="#222" stroke-width="0.7"/>
<line x1="366.26" y1="622.80" x2="366.26" y2="624.30" stroke="#222" stroke-width="0.7"/>
<line x1="371.22" y1="622.80" x2="371.22" y2="624.30" stroke="#222" stroke-width="0.7"/>
<line x1="376.18" y1="622.80" x2="376.18" y2="624.30" stroke="#222" stroke-width="0.7"/>
<line x1="381.14" y1="622.80" x2="381.14" y2="624.30" stroke="#222" stroke-width="0.7"/>
<line x1="386.10" y1="622.80" x2="386.10" y2="625.40" stroke="#222" stroke-width="0.7"/>
<line x1="391.06" y1="622.80" x2="391.06" y2="624.30" stroke="#222" stroke-width="0.7"/>
<line x1="396.02" y1="622.80" x2="396.02" y2="624.30" stroke="#222" stroke-width="0.7"/>
<line x1="400.98" y1="622.80" x2="400.98" y2="624.30" stroke="#222" stroke-width="0.7"/>
<line x1="405.94" y1="622.80" x2="405.94" y2="624.30" stroke="#222" stroke-width="0.7"/>
<line x1="410.90" y1="622.80" x2="410.90" y2="625.40" stroke="#222" stroke-width="0.7"/>
<line x1="415.86" y1="622.80" x2="415.86" y2="624.30" stroke="#222" stroke-width="0.7"/>
<line x1="420.82" y1="622.80" x2="420.82" y2="624.30" stroke="#222" stroke-width="0.7"/>
<line x1="425.78" y1="622.80" x2="425.78" y2="624.30" stroke="#222" stroke-width="0.7"/>
<line x1="430.74" y1="622.80" x2="430.74" y2="624.30" stroke="#222" stroke-width="0.7"/>
<line x1="435.70" y1="622.80" x2="435.70" y2="625.40" stroke="#222" stroke-width="0.7"/>
<line x1="440.66" y1="622.80" x2="440.66" y2="624.30" stroke="#222" stroke-width="0.7"/>
<line x1="445.62" y1="622.80" x2="445.62" y2="624.30" stroke="#222" stroke-width="0.7"/>
<line x1="450.58" y1="622.80" x2="450.58" y2="624.30" stroke="#222" stroke-width="0.7"/>
<line x1="455.54" y1="622.80" x2="455.54" y2="624.30" stroke="#222" stroke-width="0.7"/>
<line x1="460.50" y1="622.80" x2="460.50" y2="625.40" stroke="#222" stroke-width="0.7"/>
<line x1="465.46" y1="622.80" x2="465.46" y2="624.30" stroke="#222" stroke-width="0.7"/>
<line x1="470.42" y1="622.80" x2="470.42" y2="624.30" stroke="#222" stroke-width="0.7"/>
<line x1="475.38" y1="622.80" x2="475.38" y2="624.30" stroke="#222" stroke-width="0.7"/>
<line x1="480.34" y1="622.80" x2="480.34" y2="624.30" stroke="#222" stroke-width="0.7"/>
<line x1="485.30" y1="622.80" x2="485.30" y2="625.40" stroke="#222" stroke-width="0.7"/>
<line x1="490.26" y1="622.80" x2="490.26" y2="624.30" stroke="#222" stroke-width="0.7"/>
<line x1="495.22" y1="622.80" x2="495.22" y2="624.30" stroke="#222" stroke-width="0.7"/>
<line x1="500.18" y1="622.80" x2="500.18" y2="624.30" stroke="#222" stroke-width="0.7"/>
<line x1="505.14" y1="622.80" x2="505.14" y2="624.30" stroke="#222" stroke-width="0.7"/>
<line x1="510.10" y1="622.80" x2="510.10" y2="625.40" stroke="#222" stroke-width="0.7"/>
<text x="360.50" y="635.07" font-size="6.3" text-anchor="middle" fill="#222">−15</text>
<text x="385.30" y="635.07" font-size="6.3" text-anchor="middle" fill="#222">−10</text>
<text x="410.10" y="635.07" font-size="6.3" text-anchor="middle" fill="#222">−5</text>
<text x="435.70" y="635.07" font-size="6.3" text-anchor="middle" fill="#222">0</text>
<text x="460.50" y="635.07" font-size="6.3" text-anchor="middle" fill="#222">5</text>
<text x="485.30" y="635.07" font-size="6.3" text-anchor="middle" fill="#222">10</text>
<text x="510.10" y="635.07" font-size="6.3" text-anchor="middle" fill="#222">15</text>
<text x="437.60" y="646.19" font-size="8.4" text-anchor="middle" font-weight="bold" textLength="11.0" lengthAdjust="spacingAndGlyphs" fill="#222">NES</text>
<rect x="0.5" y="0.5" width="519" height="654" fill="none" stroke="#666" stroke-width="1"/>
</svg></body></html>
